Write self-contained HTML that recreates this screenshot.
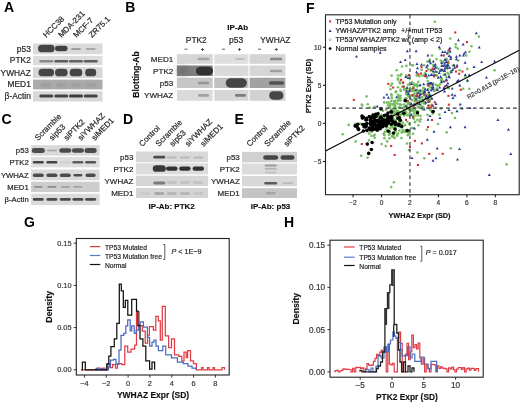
<!DOCTYPE html>
<html><head><meta charset="utf-8"><style>
html,body{margin:0;padding:0;background:#fff;width:520px;height:403px;overflow:hidden}
svg{display:block;font-family:"Liberation Sans",sans-serif;filter:blur(0.35px)}
</style></head><body>
<svg width="520" height="403" viewBox="0 0 520 403">
<defs><clipPath id="fclip"><rect x="325.5" y="14.8" width="193.7" height="179.9"/></clipPath><clipPath id="clip76"><rect x="76.2" y="238.4" width="153" height="136.4"/></clipPath><clipPath id="clip330"><rect x="330" y="240.2" width="153.2" height="137"/></clipPath></defs>
<defs><filter id="b1" x="-50%" y="-50%" width="200%" height="200%"><feGaussianBlur stdDeviation="0.6"/></filter><filter id="b2" x="-50%" y="-50%" width="200%" height="200%"><feGaussianBlur stdDeviation="1.2"/></filter><filter id="b3" x="-50%" y="-50%" width="200%" height="200%"><feGaussianBlur stdDeviation="2"/></filter></defs>
<text x="4.00" y="12.30" font-size="14" font-weight="bold" text-anchor="start" fill="#000">A</text>
<text x="125.30" y="12.30" font-size="14" font-weight="bold" text-anchor="start" fill="#000">B</text>
<text x="1.60" y="123.80" font-size="14" font-weight="bold" text-anchor="start" fill="#000">C</text>
<text x="123.00" y="123.80" font-size="14" font-weight="bold" text-anchor="start" fill="#000">D</text>
<text x="234.50" y="123.80" font-size="14" font-weight="bold" text-anchor="start" fill="#000">E</text>
<text x="306.00" y="12.50" font-size="14" font-weight="bold" text-anchor="start" fill="#000">F</text>
<text x="24.00" y="226.80" font-size="14" font-weight="bold" text-anchor="start" fill="#000">G</text>
<text x="284.00" y="226.80" font-size="14" font-weight="bold" text-anchor="start" fill="#000">H</text>
<rect x="33.00" y="43.50" width="69.50" height="10.80" fill="#dadada"/>
<rect x="33.00" y="55.90" width="69.50" height="9.30" fill="#dcdcdc"/>
<rect x="33.00" y="67.20" width="69.50" height="10.80" fill="#d6d6d6"/>
<rect x="33.00" y="79.60" width="69.50" height="9.80" fill="#ababab"/>
<rect x="33.00" y="91.20" width="69.50" height="10.30" fill="#d8d8d8"/>
<text x="30.80" y="51.80" font-size="8.4" font-weight="normal" text-anchor="end" fill="#2a2a2a" stroke="#2a2a2a" stroke-width="0.22">p53</text>
<text x="30.80" y="63.45" font-size="8.4" font-weight="normal" text-anchor="end" fill="#2a2a2a" stroke="#2a2a2a" stroke-width="0.22">PTK2</text>
<text x="30.80" y="75.50" font-size="8.4" font-weight="normal" text-anchor="end" fill="#2a2a2a" stroke="#2a2a2a" stroke-width="0.22">YWHAZ</text>
<text x="30.80" y="87.40" font-size="8.4" font-weight="normal" text-anchor="end" fill="#2a2a2a" stroke="#2a2a2a" stroke-width="0.22">MED1</text>
<text x="30.80" y="99.25" font-size="8.4" font-weight="normal" text-anchor="end" fill="#2a2a2a" stroke="#2a2a2a" stroke-width="0.22">&#946;-Actin</text>
<text x="46.20" y="38.10" font-size="8.0" font-weight="normal" text-anchor="start" fill="#2a2a2a" transform="rotate(-45 46.2 38.1)" stroke="#2a2a2a" stroke-width="0.22">HCC38</text>
<text x="61.40" y="38.10" font-size="8.0" font-weight="normal" text-anchor="start" fill="#2a2a2a" transform="rotate(-45 61.4 38.1)" stroke="#2a2a2a" stroke-width="0.22">MDA-231</text>
<text x="76.60" y="38.10" font-size="8.0" font-weight="normal" text-anchor="start" fill="#2a2a2a" transform="rotate(-45 76.6 38.1)" stroke="#2a2a2a" stroke-width="0.22">MCF-7</text>
<text x="92.00" y="38.10" font-size="8.0" font-weight="normal" text-anchor="start" fill="#2a2a2a" transform="rotate(-45 92.0 38.1)" stroke="#2a2a2a" stroke-width="0.22">ZR75.1</text>
<rect x="38.05" y="44.85" width="16.50" height="7.50" rx="4.12" ry="3.38" fill="#444" fill-opacity="1" filter="url(#b1)"/>
<rect x="55.05" y="45.85" width="12.50" height="5.50" rx="3.03" ry="2.48" fill="#3f3f3f" fill-opacity="1" filter="url(#b1)"/>
<rect x="71.00" y="47.90" width="10.00" height="2.20" rx="1.21" ry="0.99" fill="#777" fill-opacity="0.6" filter="url(#b1)"/>
<rect x="85.70" y="48.10" width="10.00" height="1.80" rx="0.99" ry="0.81" fill="#777" fill-opacity="0.5" filter="url(#b1)"/>
<rect x="39.30" y="60.00" width="14.00" height="2.60" rx="1.30" fill="#444" fill-opacity="0.55" filter="url(#b1)"/>
<rect x="54.30" y="60.00" width="14.00" height="2.60" rx="1.30" fill="#444" fill-opacity="0.85" filter="url(#b1)"/>
<rect x="69.00" y="60.00" width="14.00" height="2.60" rx="1.30" fill="#444" fill-opacity="0.8" filter="url(#b1)"/>
<rect x="83.70" y="60.00" width="14.00" height="2.60" rx="1.30" fill="#444" fill-opacity="0.85" filter="url(#b1)"/>
<rect x="38.55" y="68.85" width="15.50" height="7.50" rx="4.12" ry="3.38" fill="#444" fill-opacity="1" filter="url(#b1)"/>
<rect x="55.05" y="68.85" width="12.50" height="7.50" rx="3.75" ry="3.38" fill="#444" fill-opacity="1" filter="url(#b1)"/>
<rect x="69.75" y="68.85" width="12.50" height="7.50" rx="3.75" ry="3.38" fill="#444" fill-opacity="1" filter="url(#b1)"/>
<rect x="85.20" y="68.85" width="11.00" height="7.50" rx="3.30" ry="3.38" fill="#444" fill-opacity="1" filter="url(#b1)"/>
<rect x="40.80" y="83.00" width="11.00" height="4.00" rx="2.20" ry="1.80" fill="#888" fill-opacity="0.35" filter="url(#b2)"/>
<rect x="55.80" y="83.00" width="11.00" height="4.00" rx="2.20" ry="1.80" fill="#888" fill-opacity="0.35" filter="url(#b2)"/>
<rect x="70.50" y="83.00" width="11.00" height="4.00" rx="2.20" ry="1.80" fill="#888" fill-opacity="0.35" filter="url(#b2)"/>
<rect x="85.20" y="83.00" width="11.00" height="4.00" rx="2.20" ry="1.80" fill="#888" fill-opacity="0.35" filter="url(#b2)"/>
<rect x="39.30" y="94.40" width="14.00" height="3.20" rx="1.60" fill="#333" fill-opacity="0.9" filter="url(#b1)"/>
<rect x="54.30" y="94.40" width="14.00" height="3.20" rx="1.60" fill="#333" fill-opacity="0.9" filter="url(#b1)"/>
<rect x="69.00" y="94.40" width="14.00" height="3.20" rx="1.60" fill="#333" fill-opacity="0.95" filter="url(#b1)"/>
<rect x="83.70" y="94.40" width="14.00" height="3.20" rx="1.60" fill="#333" fill-opacity="0.9" filter="url(#b1)"/>
<text x="237.80" y="30.20" font-size="8" font-weight="bold" text-anchor="middle" fill="#111" stroke="#111" stroke-width="0.15">IP-Ab</text>
<text x="196.30" y="42.90" font-size="8.4" font-weight="normal" text-anchor="middle" fill="#2a2a2a" stroke="#2a2a2a" stroke-width="0.22">PTK2</text>
<text x="236.10" y="42.90" font-size="8.4" font-weight="normal" text-anchor="middle" fill="#2a2a2a" stroke="#2a2a2a" stroke-width="0.22">p53</text>
<text x="275.30" y="42.90" font-size="8.4" font-weight="normal" text-anchor="middle" fill="#2a2a2a" stroke="#2a2a2a" stroke-width="0.22">YWHAZ</text>
<line x1="184.50" y1="49.2" x2="187.50" y2="49.2" stroke="#333" stroke-width="0.8"/>
<line x1="222.00" y1="49.2" x2="225.00" y2="49.2" stroke="#333" stroke-width="0.8"/>
<line x1="258.00" y1="49.2" x2="261.00" y2="49.2" stroke="#333" stroke-width="0.8"/>
<line x1="201.00" y1="49.5" x2="204.00" y2="49.5" stroke="#333" stroke-width="0.8"/>
<line x1="202.50" y1="48.0" x2="202.50" y2="51.0" stroke="#333" stroke-width="0.8"/>
<line x1="238.00" y1="49.5" x2="241.00" y2="49.5" stroke="#333" stroke-width="0.8"/>
<line x1="239.50" y1="48.0" x2="239.50" y2="51.0" stroke="#333" stroke-width="0.8"/>
<line x1="274.80" y1="49.5" x2="277.80" y2="49.5" stroke="#333" stroke-width="0.8"/>
<line x1="276.30" y1="48.0" x2="276.30" y2="51.0" stroke="#333" stroke-width="0.8"/>
<rect x="176.90" y="54.20" width="35.80" height="9.60" fill="#d6d6d6"/>
<rect x="214.30" y="54.20" width="34.20" height="9.60" fill="#dedede"/>
<rect x="249.60" y="54.20" width="35.80" height="9.60" fill="#d4d4d4"/>
<rect x="176.90" y="65.50" width="35.80" height="10.50" fill="#808080"/>
<rect x="214.30" y="65.50" width="34.20" height="10.50" fill="#dadada"/>
<rect x="249.60" y="65.50" width="35.80" height="10.50" fill="#d6d6d6"/>
<rect x="176.90" y="77.70" width="35.80" height="10.30" fill="#c6c6c6"/>
<rect x="214.30" y="77.70" width="34.20" height="10.30" fill="#c0c0c0"/>
<rect x="249.60" y="77.70" width="35.80" height="10.30" fill="#a2a2a2"/>
<rect x="176.90" y="90.00" width="35.80" height="10.80" fill="#dadada"/>
<rect x="214.30" y="90.00" width="34.20" height="10.80" fill="#d6d6d6"/>
<rect x="249.60" y="90.00" width="35.80" height="10.80" fill="#d2d2d2"/>
<text x="173.30" y="61.90" font-size="8.1" font-weight="normal" text-anchor="end" fill="#2a2a2a" stroke="#2a2a2a" stroke-width="0.22">MED1</text>
<text x="173.30" y="73.65" font-size="8.1" font-weight="normal" text-anchor="end" fill="#2a2a2a" stroke="#2a2a2a" stroke-width="0.22">PTK2</text>
<text x="173.30" y="85.75" font-size="8.1" font-weight="normal" text-anchor="end" fill="#2a2a2a" stroke="#2a2a2a" stroke-width="0.22">p53</text>
<text x="173.30" y="98.30" font-size="8.1" font-weight="normal" text-anchor="end" fill="#2a2a2a" stroke="#2a2a2a" stroke-width="0.22">YWHAZ</text>
<text x="138.50" y="74.50" font-size="8.5" font-weight="bold" text-anchor="middle" fill="#111" transform="rotate(-90 138.5 74.5)" stroke="#111" stroke-width="0.15">Blotting-Ab</text>
<rect x="197.50" y="57.75" width="12.00" height="2.50" rx="1.38" ry="1.12" fill="#777" fill-opacity="0.5" filter="url(#b1)"/>
<rect x="235.00" y="57.90" width="10.00" height="2.20" rx="1.21" ry="0.99" fill="#888" fill-opacity="0.35" filter="url(#b1)"/>
<rect x="270.00" y="57.70" width="12.00" height="2.60" rx="1.43" ry="1.17" fill="#555" fill-opacity="0.6" filter="url(#b1)"/>
<rect x="196.00" y="66.75" width="17.00" height="8.50" rx="4.68" ry="3.83" fill="#333" fill-opacity="1" filter="url(#b1)"/>
<rect x="177.00" y="66.50" width="12.00" height="9.00" rx="3.60" ry="4.05" fill="#666" fill-opacity="0.5" filter="url(#b3)"/>
<rect x="270.00" y="69.70" width="12.00" height="2.60" rx="1.43" ry="1.17" fill="#666" fill-opacity="0.5" filter="url(#b1)"/>
<rect x="198.00" y="81.70" width="11.00" height="2.60" rx="1.43" ry="1.17" fill="#666" fill-opacity="0.5" filter="url(#b1)"/>
<rect x="225.80" y="78.15" width="21.00" height="9.50" rx="5.23" ry="4.28" fill="#444" fill-opacity="1" filter="url(#b1)"/>
<rect x="269.00" y="81.25" width="15.00" height="3.50" rx="1.93" ry="1.57" fill="#444" fill-opacity="0.85" filter="url(#b1)"/>
<rect x="198.00" y="94.10" width="11.00" height="2.60" rx="1.43" ry="1.17" fill="#666" fill-opacity="0.5" filter="url(#b1)"/>
<rect x="235.00" y="94.00" width="11.00" height="2.80" rx="1.54" ry="1.26" fill="#555" fill-opacity="0.7" filter="url(#b1)"/>
<rect x="269.30" y="91.15" width="14.00" height="8.50" rx="4.20" ry="3.83" fill="#444" fill-opacity="1" filter="url(#b1)"/>
<rect x="31.10" y="145.20" width="68.50" height="10.40" fill="#d8d8d8"/>
<rect x="31.10" y="157.00" width="68.50" height="10.40" fill="#dedede"/>
<rect x="31.10" y="169.50" width="68.50" height="10.80" fill="#dadada"/>
<rect x="31.10" y="181.70" width="68.50" height="10.40" fill="#cdcdcd"/>
<rect x="31.10" y="193.80" width="68.50" height="11.30" fill="#dadada"/>
<text x="28.70" y="153.15" font-size="7.7" font-weight="normal" text-anchor="end" fill="#2a2a2a" stroke="#2a2a2a" stroke-width="0.22">p53</text>
<text x="28.70" y="164.95" font-size="7.7" font-weight="normal" text-anchor="end" fill="#2a2a2a" stroke="#2a2a2a" stroke-width="0.22">PTK2</text>
<text x="28.70" y="177.65" font-size="7.7" font-weight="normal" text-anchor="end" fill="#2a2a2a" stroke="#2a2a2a" stroke-width="0.22">YWHAZ</text>
<text x="28.70" y="189.65" font-size="7.7" font-weight="normal" text-anchor="end" fill="#2a2a2a" stroke="#2a2a2a" stroke-width="0.22">MED1</text>
<text x="28.70" y="202.20" font-size="7.7" font-weight="normal" text-anchor="end" fill="#2a2a2a" stroke="#2a2a2a" stroke-width="0.22">&#946;-Actin</text>
<text x="37.90" y="140.90" font-size="8.0" font-weight="normal" text-anchor="start" fill="#2a2a2a" transform="rotate(-45 37.9 140.9)" stroke="#2a2a2a" stroke-width="0.22">Scramble</text>
<text x="52.30" y="140.90" font-size="8.0" font-weight="normal" text-anchor="start" fill="#2a2a2a" transform="rotate(-45 52.3 140.9)" stroke="#2a2a2a" stroke-width="0.22">sip53</text>
<text x="66.90" y="140.90" font-size="8.0" font-weight="normal" text-anchor="start" fill="#2a2a2a" transform="rotate(-45 66.9 140.9)" stroke="#2a2a2a" stroke-width="0.22">siPTK2</text>
<text x="80.90" y="140.90" font-size="8.0" font-weight="normal" text-anchor="start" fill="#2a2a2a" transform="rotate(-45 80.9 140.9)" stroke="#2a2a2a" stroke-width="0.22">siYWHAZ</text>
<text x="94.70" y="140.90" font-size="8.0" font-weight="normal" text-anchor="start" fill="#2a2a2a" transform="rotate(-45 94.7 140.9)" stroke="#2a2a2a" stroke-width="0.22">siMED1</text>
<rect x="31.80" y="148.00" width="13.00" height="5.00" rx="2.75" ry="2.25" fill="#444" fill-opacity="0.95" filter="url(#b1)"/>
<rect x="46.90" y="149.70" width="10.00" height="1.60" rx="0.88" ry="0.72" fill="#444" fill-opacity="0.35" filter="url(#b1)"/>
<rect x="59.30" y="148.20" width="12.00" height="4.60" rx="2.53" ry="2.07" fill="#444" fill-opacity="0.95" filter="url(#b1)"/>
<rect x="71.90" y="148.20" width="12.00" height="4.60" rx="2.53" ry="2.07" fill="#444" fill-opacity="0.95" filter="url(#b1)"/>
<rect x="84.60" y="148.00" width="12.00" height="5.00" rx="2.75" ry="2.25" fill="#444" fill-opacity="0.95" filter="url(#b1)"/>
<rect x="32.80" y="160.90" width="11.00" height="2.60" rx="1.30" fill="#333" fill-opacity="0.9" filter="url(#b1)"/>
<rect x="46.40" y="160.90" width="11.00" height="2.60" rx="1.30" fill="#333" fill-opacity="0.9" filter="url(#b1)"/>
<rect x="59.80" y="160.90" width="11.00" height="2.60" rx="1.30" fill="#333" fill-opacity="0.08" filter="url(#b1)"/>
<rect x="72.40" y="160.90" width="11.00" height="2.60" rx="1.30" fill="#333" fill-opacity="0.75" filter="url(#b1)"/>
<rect x="85.10" y="160.90" width="11.00" height="2.60" rx="1.30" fill="#333" fill-opacity="0.8" filter="url(#b1)"/>
<rect x="32.80" y="173.40" width="11.00" height="3.60" rx="1.98" ry="1.62" fill="#444" fill-opacity="0.95" filter="url(#b1)"/>
<rect x="46.40" y="173.40" width="11.00" height="3.60" rx="1.98" ry="1.62" fill="#444" fill-opacity="0.95" filter="url(#b1)"/>
<rect x="59.80" y="173.40" width="11.00" height="3.60" rx="1.98" ry="1.62" fill="#444" fill-opacity="0.95" filter="url(#b1)"/>
<rect x="73.40" y="174.00" width="9.00" height="2.40" rx="1.32" ry="1.08" fill="#444" fill-opacity="0.95" filter="url(#b1)"/>
<rect x="85.60" y="173.40" width="10.00" height="3.60" rx="1.98" ry="1.62" fill="#444" fill-opacity="0.95" filter="url(#b1)"/>
<rect x="33.80" y="186.00" width="9.00" height="1.80" rx="0.90" fill="#555" fill-opacity="0.5" filter="url(#b1)"/>
<rect x="47.40" y="186.00" width="9.00" height="1.80" rx="0.90" fill="#555" fill-opacity="0.55" filter="url(#b1)"/>
<rect x="60.80" y="186.00" width="9.00" height="1.80" rx="0.90" fill="#555" fill-opacity="0.35" filter="url(#b1)"/>
<rect x="73.40" y="186.00" width="9.00" height="1.80" rx="0.90" fill="#555" fill-opacity="0.35" filter="url(#b1)"/>
<rect x="86.10" y="186.00" width="9.00" height="1.80" rx="0.90" fill="#555" fill-opacity="0.0" filter="url(#b1)"/>
<rect x="32.80" y="198.00" width="11.00" height="2.80" rx="1.40" fill="#333" fill-opacity="0.85" filter="url(#b1)"/>
<rect x="46.40" y="198.00" width="11.00" height="2.80" rx="1.40" fill="#333" fill-opacity="0.85" filter="url(#b1)"/>
<rect x="59.80" y="198.00" width="11.00" height="2.80" rx="1.40" fill="#333" fill-opacity="0.85" filter="url(#b1)"/>
<rect x="72.40" y="198.00" width="11.00" height="2.80" rx="1.40" fill="#333" fill-opacity="0.85" filter="url(#b1)"/>
<rect x="85.10" y="198.00" width="11.00" height="2.80" rx="1.40" fill="#333" fill-opacity="0.85" filter="url(#b1)"/>
<rect x="136.00" y="151.50" width="72.00" height="10.80" fill="#d8d8d8"/>
<rect x="136.00" y="163.30" width="72.00" height="11.10" fill="#dcdcdc"/>
<rect x="136.00" y="175.70" width="72.00" height="10.40" fill="#d6d6d6"/>
<rect x="136.00" y="188.00" width="72.00" height="10.00" fill="#d4d4d4"/>
<text x="133.40" y="159.80" font-size="8.0" font-weight="normal" text-anchor="end" fill="#2a2a2a" stroke="#2a2a2a" stroke-width="0.22">p53</text>
<text x="133.40" y="171.75" font-size="8.0" font-weight="normal" text-anchor="end" fill="#2a2a2a" stroke="#2a2a2a" stroke-width="0.22">PTK2</text>
<text x="133.40" y="183.80" font-size="8.0" font-weight="normal" text-anchor="end" fill="#2a2a2a" stroke="#2a2a2a" stroke-width="0.22">YWHAZ</text>
<text x="133.40" y="195.90" font-size="8.0" font-weight="normal" text-anchor="end" fill="#2a2a2a" stroke="#2a2a2a" stroke-width="0.22">MED1</text>
<text x="142.20" y="146.90" font-size="8.0" font-weight="normal" text-anchor="start" fill="#2a2a2a" transform="rotate(-45 142.2 146.9)" stroke="#2a2a2a" stroke-width="0.22">Control</text>
<text x="158.70" y="146.90" font-size="8.0" font-weight="normal" text-anchor="start" fill="#2a2a2a" transform="rotate(-45 158.7 146.9)" stroke="#2a2a2a" stroke-width="0.22">Scramble</text>
<text x="172.80" y="146.90" font-size="8.0" font-weight="normal" text-anchor="start" fill="#2a2a2a" transform="rotate(-45 172.8 146.9)" stroke="#2a2a2a" stroke-width="0.22">sip53</text>
<text x="188.20" y="146.90" font-size="8.0" font-weight="normal" text-anchor="start" fill="#2a2a2a" transform="rotate(-45 188.2 146.9)" stroke="#2a2a2a" stroke-width="0.22">siYWHAZ</text>
<text x="203.60" y="146.90" font-size="8.0" font-weight="normal" text-anchor="start" fill="#2a2a2a" transform="rotate(-45 203.6 146.9)" stroke="#2a2a2a" stroke-width="0.22">siMED1</text>
<rect x="153.30" y="155.70" width="12.00" height="2.80" rx="1.54" ry="1.26" fill="#333" fill-opacity="0.85" filter="url(#b1)"/>
<rect x="166.80" y="156.40" width="10.00" height="2.20" rx="1.21" ry="0.99" fill="#777" fill-opacity="0.35" filter="url(#b1)"/>
<rect x="179.90" y="156.40" width="10.00" height="2.20" rx="1.21" ry="0.99" fill="#777" fill-opacity="0.35" filter="url(#b1)"/>
<rect x="193.30" y="156.40" width="10.00" height="2.20" rx="1.21" ry="0.99" fill="#777" fill-opacity="0.35" filter="url(#b1)"/>
<rect x="152.80" y="165.35" width="13.00" height="6.50" rx="3.58" ry="2.93" fill="#383838" fill-opacity="1" filter="url(#b1)"/>
<rect x="166.05" y="166.50" width="11.50" height="4.20" rx="2.31" ry="1.89" fill="#333" fill-opacity="1" filter="url(#b1)"/>
<rect x="179.15" y="166.50" width="11.50" height="4.20" rx="2.31" ry="1.89" fill="#333" fill-opacity="1" filter="url(#b1)"/>
<rect x="192.55" y="166.50" width="11.50" height="4.20" rx="2.31" ry="1.89" fill="#333" fill-opacity="1" filter="url(#b1)"/>
<rect x="153.30" y="181.50" width="12.00" height="3.00" rx="1.65" ry="1.35" fill="#555" fill-opacity="0.7" filter="url(#b1)"/>
<rect x="166.80" y="181.00" width="10.00" height="3.00" rx="1.65" ry="1.35" fill="#888" fill-opacity="0.25" filter="url(#b1)"/>
<rect x="179.90" y="181.00" width="10.00" height="3.00" rx="1.65" ry="1.35" fill="#888" fill-opacity="0.25" filter="url(#b1)"/>
<rect x="193.30" y="181.00" width="10.00" height="3.00" rx="1.65" ry="1.35" fill="#888" fill-opacity="0.25" filter="url(#b1)"/>
<rect x="140.00" y="192.25" width="10.00" height="2.50" rx="1.38" ry="1.12" fill="#666" fill-opacity="0.1" filter="url(#b1)"/>
<rect x="154.30" y="192.25" width="10.00" height="2.50" rx="1.38" ry="1.12" fill="#666" fill-opacity="0.45" filter="url(#b1)"/>
<rect x="166.80" y="192.25" width="10.00" height="2.50" rx="1.38" ry="1.12" fill="#666" fill-opacity="0.3" filter="url(#b1)"/>
<rect x="179.90" y="192.25" width="10.00" height="2.50" rx="1.38" ry="1.12" fill="#666" fill-opacity="0.3" filter="url(#b1)"/>
<rect x="193.30" y="192.25" width="10.00" height="2.50" rx="1.38" ry="1.12" fill="#666" fill-opacity="0.15" filter="url(#b1)"/>
<text x="171.70" y="208.60" font-size="8" font-weight="bold" text-anchor="middle" fill="#111" stroke="#111" stroke-width="0.15">IP-Ab: PTK2</text>
<rect x="242.00" y="151.90" width="55.00" height="10.40" fill="#d0d0d0"/>
<rect x="242.00" y="163.50" width="55.00" height="11.00" fill="#dcdcdc"/>
<rect x="242.00" y="176.00" width="55.00" height="10.40" fill="#d8d8d8"/>
<rect x="242.00" y="188.20" width="55.00" height="9.80" fill="#c4c4c4"/>
<text x="239.80" y="160.00" font-size="8.0" font-weight="normal" text-anchor="end" fill="#2a2a2a" stroke="#2a2a2a" stroke-width="0.22">p53</text>
<text x="239.80" y="171.90" font-size="8.0" font-weight="normal" text-anchor="end" fill="#2a2a2a" stroke="#2a2a2a" stroke-width="0.22">PTK2</text>
<text x="239.80" y="184.10" font-size="8.0" font-weight="normal" text-anchor="end" fill="#2a2a2a" stroke="#2a2a2a" stroke-width="0.22">YWHAZ</text>
<text x="239.80" y="196.00" font-size="8.0" font-weight="normal" text-anchor="end" fill="#2a2a2a" stroke="#2a2a2a" stroke-width="0.22">MED1</text>
<text x="249.70" y="146.90" font-size="8.0" font-weight="normal" text-anchor="start" fill="#2a2a2a" transform="rotate(-45 249.7 146.9)" stroke="#2a2a2a" stroke-width="0.22">Control</text>
<text x="267.50" y="146.90" font-size="8.0" font-weight="normal" text-anchor="start" fill="#2a2a2a" transform="rotate(-45 267.5 146.9)" stroke="#2a2a2a" stroke-width="0.22">Scramble</text>
<text x="287.00" y="146.90" font-size="8.0" font-weight="normal" text-anchor="start" fill="#2a2a2a" transform="rotate(-45 287.0 146.9)" stroke="#2a2a2a" stroke-width="0.22">siPTK2</text>
<rect x="263.20" y="155.35" width="15.00" height="4.50" rx="2.48" ry="2.02" fill="#444" fill-opacity="1" filter="url(#b1)"/>
<rect x="280.50" y="155.35" width="14.00" height="4.50" rx="2.48" ry="2.02" fill="#444" fill-opacity="1" filter="url(#b1)"/>
<rect x="264.70" y="164.50" width="12.00" height="2.00" rx="1.10" ry="0.90" fill="#666" fill-opacity="0.55" filter="url(#b1)"/>
<rect x="264.70" y="167.80" width="12.00" height="2.00" rx="1.10" ry="0.90" fill="#777" fill-opacity="0.4" filter="url(#b1)"/>
<rect x="264.70" y="171.50" width="12.00" height="2.00" rx="1.10" ry="0.90" fill="#888" fill-opacity="0.3" filter="url(#b1)"/>
<rect x="264.20" y="181.90" width="13.00" height="2.60" rx="1.43" ry="1.17" fill="#444" fill-opacity="0.85" filter="url(#b1)"/>
<rect x="282.00" y="182.20" width="11.00" height="2.00" rx="1.10" ry="0.90" fill="#777" fill-opacity="0.3" filter="url(#b1)"/>
<rect x="265.70" y="191.95" width="10.00" height="2.50" rx="1.38" ry="1.12" fill="#777" fill-opacity="0.4" filter="url(#b1)"/>
<text x="270.50" y="208.50" font-size="8" font-weight="bold" text-anchor="middle" fill="#111" stroke="#111" stroke-width="0.15">IP-Ab: p53</text>
<g clip-path="url(#fclip)">
<circle cx="391.8" cy="98.3" r="1.3" fill="#78bc62"/>
<circle cx="425.5" cy="98.8" r="1.3" fill="#78bc62"/>
<circle cx="405.7" cy="112.1" r="1.3" fill="#78bc62"/>
<circle cx="400.9" cy="112.4" r="1.3" fill="#78bc62"/>
<circle cx="463.2" cy="88.7" r="1.3" fill="#78bc62"/>
<circle cx="409.7" cy="113.3" r="1.3" fill="#78bc62"/>
<circle cx="395.8" cy="92.2" r="1.3" fill="#78bc62"/>
<circle cx="399.3" cy="130.5" r="1.3" fill="#78bc62"/>
<circle cx="406.0" cy="89.8" r="1.3" fill="#78bc62"/>
<circle cx="389.3" cy="117.2" r="1.3" fill="#78bc62"/>
<circle cx="370.2" cy="120.4" r="1.3" fill="#78bc62"/>
<circle cx="393.6" cy="110.0" r="1.3" fill="#78bc62"/>
<circle cx="427.4" cy="61.6" r="1.3" fill="#78bc62"/>
<circle cx="409.4" cy="109.3" r="1.3" fill="#78bc62"/>
<circle cx="394.4" cy="103.7" r="1.3" fill="#78bc62"/>
<circle cx="399.1" cy="126.2" r="1.3" fill="#78bc62"/>
<circle cx="444.5" cy="70.7" r="1.3" fill="#78bc62"/>
<circle cx="419.5" cy="100.5" r="1.3" fill="#78bc62"/>
<circle cx="385.3" cy="118.3" r="1.3" fill="#78bc62"/>
<circle cx="394.1" cy="122.6" r="1.3" fill="#78bc62"/>
<circle cx="392.1" cy="83.6" r="1.3" fill="#78bc62"/>
<circle cx="454.0" cy="65.5" r="1.3" fill="#78bc62"/>
<circle cx="401.9" cy="113.9" r="1.3" fill="#78bc62"/>
<circle cx="393.5" cy="111.2" r="1.3" fill="#78bc62"/>
<circle cx="424.5" cy="101.8" r="1.3" fill="#78bc62"/>
<circle cx="416.4" cy="92.4" r="1.3" fill="#78bc62"/>
<circle cx="438.5" cy="68.8" r="1.3" fill="#78bc62"/>
<circle cx="371.4" cy="132.0" r="1.3" fill="#78bc62"/>
<circle cx="415.5" cy="84.9" r="1.3" fill="#78bc62"/>
<circle cx="417.5" cy="119.9" r="1.3" fill="#78bc62"/>
<circle cx="506.6" cy="164.4" r="1.3" fill="#78bc62"/>
<circle cx="403.8" cy="86.2" r="1.3" fill="#78bc62"/>
<circle cx="377.1" cy="115.8" r="1.3" fill="#78bc62"/>
<circle cx="387.7" cy="130.6" r="1.3" fill="#78bc62"/>
<circle cx="433.6" cy="75.0" r="1.3" fill="#78bc62"/>
<circle cx="395.5" cy="106.5" r="1.3" fill="#78bc62"/>
<circle cx="388.9" cy="134.8" r="1.3" fill="#78bc62"/>
<circle cx="386.8" cy="102.6" r="1.3" fill="#78bc62"/>
<circle cx="407.1" cy="115.3" r="1.3" fill="#78bc62"/>
<circle cx="400.2" cy="117.5" r="1.3" fill="#78bc62"/>
<circle cx="432.7" cy="113.6" r="1.3" fill="#78bc62"/>
<circle cx="447.9" cy="65.2" r="1.3" fill="#78bc62"/>
<circle cx="402.9" cy="122.7" r="1.3" fill="#78bc62"/>
<circle cx="436.8" cy="75.5" r="1.3" fill="#78bc62"/>
<circle cx="391.3" cy="109.2" r="1.3" fill="#78bc62"/>
<circle cx="397.3" cy="118.8" r="1.3" fill="#78bc62"/>
<circle cx="413.3" cy="87.0" r="1.3" fill="#78bc62"/>
<circle cx="444.3" cy="70.4" r="1.3" fill="#78bc62"/>
<circle cx="390.5" cy="89.3" r="1.3" fill="#78bc62"/>
<circle cx="425.1" cy="93.6" r="1.3" fill="#78bc62"/>
<circle cx="439.9" cy="84.4" r="1.3" fill="#78bc62"/>
<circle cx="414.1" cy="85.6" r="1.3" fill="#78bc62"/>
<circle cx="409.1" cy="124.0" r="1.3" fill="#78bc62"/>
<circle cx="397.9" cy="79.6" r="1.3" fill="#78bc62"/>
<circle cx="393.8" cy="137.2" r="1.3" fill="#78bc62"/>
<circle cx="417.9" cy="111.4" r="1.3" fill="#78bc62"/>
<circle cx="382.8" cy="124.9" r="1.3" fill="#78bc62"/>
<circle cx="367.8" cy="104.2" r="1.3" fill="#78bc62"/>
<circle cx="408.1" cy="95.4" r="1.3" fill="#78bc62"/>
<circle cx="415.4" cy="96.6" r="1.3" fill="#78bc62"/>
<circle cx="417.0" cy="86.5" r="1.3" fill="#78bc62"/>
<circle cx="367.6" cy="157.7" r="1.3" fill="#78bc62"/>
<circle cx="434.8" cy="21.8" r="1.3" fill="#78bc62"/>
<circle cx="387.7" cy="119.4" r="1.3" fill="#78bc62"/>
<circle cx="403.9" cy="114.8" r="1.3" fill="#78bc62"/>
<circle cx="393.9" cy="119.6" r="1.3" fill="#78bc62"/>
<circle cx="446.4" cy="77.2" r="1.3" fill="#78bc62"/>
<circle cx="394.7" cy="105.0" r="1.3" fill="#78bc62"/>
<circle cx="405.3" cy="90.2" r="1.3" fill="#78bc62"/>
<circle cx="400.5" cy="115.0" r="1.3" fill="#78bc62"/>
<circle cx="371.4" cy="135.9" r="1.3" fill="#78bc62"/>
<circle cx="433.8" cy="72.3" r="1.3" fill="#78bc62"/>
<circle cx="394.8" cy="111.7" r="1.3" fill="#78bc62"/>
<circle cx="429.4" cy="86.2" r="1.3" fill="#78bc62"/>
<circle cx="469.4" cy="51.8" r="1.3" fill="#78bc62"/>
<circle cx="383.8" cy="133.7" r="1.3" fill="#78bc62"/>
<circle cx="391.8" cy="125.0" r="1.3" fill="#78bc62"/>
<circle cx="422.9" cy="107.1" r="1.3" fill="#78bc62"/>
<circle cx="355.7" cy="141.4" r="1.3" fill="#78bc62"/>
<circle cx="413.6" cy="118.8" r="1.3" fill="#78bc62"/>
<circle cx="401.0" cy="124.2" r="1.3" fill="#78bc62"/>
<circle cx="436.9" cy="72.1" r="1.3" fill="#78bc62"/>
<circle cx="435.6" cy="90.2" r="1.3" fill="#78bc62"/>
<circle cx="381.4" cy="115.0" r="1.3" fill="#78bc62"/>
<circle cx="390.2" cy="128.4" r="1.3" fill="#78bc62"/>
<circle cx="400.4" cy="121.7" r="1.3" fill="#78bc62"/>
<circle cx="395.7" cy="131.4" r="1.3" fill="#78bc62"/>
<circle cx="406.2" cy="131.8" r="1.3" fill="#78bc62"/>
<circle cx="433.5" cy="74.7" r="1.3" fill="#78bc62"/>
<circle cx="375.9" cy="114.5" r="1.3" fill="#78bc62"/>
<circle cx="402.3" cy="86.8" r="1.3" fill="#78bc62"/>
<circle cx="393.6" cy="115.4" r="1.3" fill="#78bc62"/>
<circle cx="411.8" cy="95.7" r="1.3" fill="#78bc62"/>
<circle cx="394.8" cy="102.6" r="1.3" fill="#78bc62"/>
<circle cx="457.8" cy="48.6" r="1.3" fill="#78bc62"/>
<circle cx="396.5" cy="125.1" r="1.3" fill="#78bc62"/>
<circle cx="436.9" cy="67.5" r="1.3" fill="#78bc62"/>
<circle cx="378.7" cy="115.9" r="1.3" fill="#78bc62"/>
<circle cx="417.5" cy="113.1" r="1.3" fill="#78bc62"/>
<circle cx="385.5" cy="114.4" r="1.3" fill="#78bc62"/>
<circle cx="391.2" cy="187.1" r="1.3" fill="#78bc62"/>
<circle cx="420.2" cy="101.5" r="1.3" fill="#78bc62"/>
<circle cx="431.8" cy="104.8" r="1.3" fill="#78bc62"/>
<circle cx="379.4" cy="125.2" r="1.3" fill="#78bc62"/>
<circle cx="378.3" cy="119.2" r="1.3" fill="#78bc62"/>
<circle cx="410.2" cy="115.8" r="1.3" fill="#78bc62"/>
<circle cx="451.8" cy="71.0" r="1.3" fill="#78bc62"/>
<circle cx="415.1" cy="98.9" r="1.3" fill="#78bc62"/>
<circle cx="448.5" cy="63.5" r="1.3" fill="#78bc62"/>
<circle cx="402.1" cy="66.5" r="1.3" fill="#78bc62"/>
<circle cx="417.1" cy="93.4" r="1.3" fill="#78bc62"/>
<circle cx="422.6" cy="99.6" r="1.3" fill="#78bc62"/>
<circle cx="395.3" cy="120.3" r="1.3" fill="#78bc62"/>
<circle cx="422.3" cy="90.5" r="1.3" fill="#78bc62"/>
<circle cx="383.5" cy="115.3" r="1.3" fill="#78bc62"/>
<circle cx="374.7" cy="134.8" r="1.3" fill="#78bc62"/>
<circle cx="408.1" cy="132.0" r="1.3" fill="#78bc62"/>
<circle cx="406.4" cy="65.9" r="1.3" fill="#78bc62"/>
<circle cx="399.0" cy="115.3" r="1.3" fill="#78bc62"/>
<circle cx="401.7" cy="132.4" r="1.3" fill="#78bc62"/>
<circle cx="416.9" cy="98.2" r="1.3" fill="#78bc62"/>
<circle cx="398.8" cy="99.4" r="1.3" fill="#78bc62"/>
<circle cx="414.6" cy="101.4" r="1.3" fill="#78bc62"/>
<circle cx="414.4" cy="108.7" r="1.3" fill="#78bc62"/>
<circle cx="427.7" cy="100.3" r="1.3" fill="#78bc62"/>
<circle cx="384.5" cy="135.2" r="1.3" fill="#78bc62"/>
<circle cx="428.3" cy="89.0" r="1.3" fill="#78bc62"/>
<circle cx="396.6" cy="70.3" r="1.3" fill="#78bc62"/>
<circle cx="406.7" cy="90.5" r="1.3" fill="#78bc62"/>
<circle cx="374.3" cy="117.1" r="1.3" fill="#78bc62"/>
<circle cx="408.0" cy="104.0" r="1.3" fill="#78bc62"/>
<circle cx="393.0" cy="113.4" r="1.3" fill="#78bc62"/>
<circle cx="408.0" cy="102.5" r="1.3" fill="#78bc62"/>
<circle cx="400.6" cy="127.2" r="1.3" fill="#78bc62"/>
<circle cx="400.4" cy="75.8" r="1.3" fill="#78bc62"/>
<circle cx="392.7" cy="127.2" r="1.3" fill="#78bc62"/>
<circle cx="409.6" cy="133.7" r="1.3" fill="#78bc62"/>
<circle cx="448.3" cy="61.4" r="1.3" fill="#78bc62"/>
<circle cx="419.5" cy="93.3" r="1.3" fill="#78bc62"/>
<circle cx="414.5" cy="109.1" r="1.3" fill="#78bc62"/>
<circle cx="398.2" cy="118.1" r="1.3" fill="#78bc62"/>
<circle cx="436.9" cy="88.6" r="1.3" fill="#78bc62"/>
<circle cx="406.3" cy="112.7" r="1.3" fill="#78bc62"/>
<circle cx="408.7" cy="109.4" r="1.3" fill="#78bc62"/>
<circle cx="428.4" cy="69.3" r="1.3" fill="#78bc62"/>
<circle cx="409.9" cy="106.9" r="1.3" fill="#78bc62"/>
<circle cx="409.1" cy="130.9" r="1.3" fill="#78bc62"/>
<circle cx="420.0" cy="97.9" r="1.3" fill="#78bc62"/>
<circle cx="415.6" cy="98.1" r="1.3" fill="#78bc62"/>
<circle cx="443.6" cy="74.7" r="1.3" fill="#78bc62"/>
<circle cx="382.5" cy="121.2" r="1.3" fill="#78bc62"/>
<circle cx="420.7" cy="119.3" r="1.3" fill="#78bc62"/>
<circle cx="419.1" cy="85.6" r="1.3" fill="#78bc62"/>
<circle cx="342.7" cy="134.3" r="1.3" fill="#78bc62"/>
<circle cx="384.2" cy="102.4" r="1.3" fill="#78bc62"/>
<circle cx="403.9" cy="109.0" r="1.3" fill="#78bc62"/>
<circle cx="424.7" cy="91.6" r="1.3" fill="#78bc62"/>
<circle cx="401.3" cy="104.8" r="1.3" fill="#78bc62"/>
<circle cx="448.7" cy="74.1" r="1.3" fill="#78bc62"/>
<circle cx="417.9" cy="102.6" r="1.3" fill="#78bc62"/>
<circle cx="414.1" cy="104.4" r="1.3" fill="#78bc62"/>
<circle cx="452.0" cy="113.0" r="1.3" fill="#78bc62"/>
<circle cx="399.3" cy="117.7" r="1.3" fill="#78bc62"/>
<circle cx="433.4" cy="83.4" r="1.3" fill="#78bc62"/>
<circle cx="441.0" cy="108.5" r="1.3" fill="#78bc62"/>
<circle cx="386.4" cy="129.6" r="1.3" fill="#78bc62"/>
<circle cx="406.2" cy="75.5" r="1.3" fill="#78bc62"/>
<circle cx="427.3" cy="99.1" r="1.3" fill="#78bc62"/>
<circle cx="387.1" cy="141.4" r="1.3" fill="#78bc62"/>
<circle cx="377.9" cy="124.3" r="1.3" fill="#78bc62"/>
<circle cx="415.7" cy="115.5" r="1.3" fill="#78bc62"/>
<circle cx="391.7" cy="95.7" r="1.3" fill="#78bc62"/>
<circle cx="433.4" cy="64.7" r="1.3" fill="#78bc62"/>
<circle cx="423.4" cy="107.5" r="1.3" fill="#78bc62"/>
<circle cx="418.2" cy="104.2" r="1.3" fill="#78bc62"/>
<circle cx="411.9" cy="100.2" r="1.3" fill="#78bc62"/>
<circle cx="422.3" cy="109.1" r="1.3" fill="#78bc62"/>
<circle cx="392.4" cy="116.9" r="1.3" fill="#78bc62"/>
<circle cx="494.6" cy="70.2" r="1.3" fill="#78bc62"/>
<circle cx="385.7" cy="146.1" r="1.3" fill="#78bc62"/>
<circle cx="416.6" cy="75.7" r="1.3" fill="#78bc62"/>
<circle cx="373.0" cy="128.7" r="1.3" fill="#78bc62"/>
<circle cx="417.6" cy="101.1" r="1.3" fill="#78bc62"/>
<circle cx="459.6" cy="70.3" r="1.3" fill="#78bc62"/>
<circle cx="417.2" cy="74.4" r="1.3" fill="#78bc62"/>
<circle cx="393.5" cy="134.8" r="1.3" fill="#78bc62"/>
<circle cx="416.1" cy="85.2" r="1.3" fill="#78bc62"/>
<circle cx="440.0" cy="49.0" r="1.3" fill="#78bc62"/>
<circle cx="436.5" cy="59.1" r="1.3" fill="#78bc62"/>
<circle cx="370.2" cy="116.4" r="1.3" fill="#78bc62"/>
<circle cx="396.1" cy="91.2" r="1.3" fill="#78bc62"/>
<circle cx="435.1" cy="90.2" r="1.3" fill="#78bc62"/>
<circle cx="421.7" cy="93.8" r="1.3" fill="#78bc62"/>
<circle cx="399.7" cy="81.8" r="1.3" fill="#78bc62"/>
<circle cx="384.9" cy="131.9" r="1.3" fill="#78bc62"/>
<circle cx="399.2" cy="120.7" r="1.3" fill="#78bc62"/>
<circle cx="398.1" cy="100.6" r="1.3" fill="#78bc62"/>
<circle cx="424.0" cy="95.5" r="1.3" fill="#78bc62"/>
<circle cx="411.2" cy="108.5" r="1.3" fill="#78bc62"/>
<circle cx="369.9" cy="107.6" r="1.3" fill="#78bc62"/>
<circle cx="398.4" cy="100.2" r="1.3" fill="#78bc62"/>
<circle cx="406.5" cy="105.7" r="1.3" fill="#78bc62"/>
<circle cx="395.8" cy="109.3" r="1.3" fill="#78bc62"/>
<circle cx="414.0" cy="90.9" r="1.3" fill="#78bc62"/>
<circle cx="409.0" cy="150.0" r="1.3" fill="#78bc62"/>
<circle cx="428.8" cy="105.6" r="1.3" fill="#78bc62"/>
<circle cx="393.9" cy="182.3" r="1.3" fill="#78bc62"/>
<circle cx="400.6" cy="95.7" r="1.3" fill="#78bc62"/>
<circle cx="408.1" cy="95.4" r="1.3" fill="#78bc62"/>
<circle cx="425.4" cy="103.5" r="1.3" fill="#78bc62"/>
<circle cx="429.8" cy="59.6" r="1.3" fill="#78bc62"/>
<circle cx="394.9" cy="126.2" r="1.3" fill="#78bc62"/>
<circle cx="424.1" cy="75.3" r="1.3" fill="#78bc62"/>
<circle cx="430.8" cy="87.4" r="1.3" fill="#78bc62"/>
<circle cx="391.2" cy="94.3" r="1.3" fill="#78bc62"/>
<circle cx="408.1" cy="101.7" r="1.3" fill="#78bc62"/>
<circle cx="414.3" cy="113.4" r="1.3" fill="#78bc62"/>
<circle cx="429.4" cy="61.8" r="1.3" fill="#78bc62"/>
<circle cx="399.2" cy="112.4" r="1.3" fill="#78bc62"/>
<circle cx="438.0" cy="124.0" r="1.3" fill="#78bc62"/>
<circle cx="412.2" cy="82.3" r="1.3" fill="#78bc62"/>
<circle cx="374.5" cy="106.9" r="1.3" fill="#78bc62"/>
<circle cx="389.6" cy="131.3" r="1.3" fill="#78bc62"/>
<circle cx="394.8" cy="138.0" r="1.3" fill="#78bc62"/>
<circle cx="404.1" cy="88.7" r="1.3" fill="#78bc62"/>
<circle cx="406.9" cy="75.9" r="1.3" fill="#78bc62"/>
<circle cx="471.5" cy="46.3" r="1.3" fill="#78bc62"/>
<circle cx="455.7" cy="44.3" r="1.3" fill="#78bc62"/>
<circle cx="400.7" cy="90.9" r="1.3" fill="#78bc62"/>
<circle cx="425.5" cy="74.6" r="1.3" fill="#78bc62"/>
<circle cx="383.9" cy="133.8" r="1.3" fill="#78bc62"/>
<circle cx="393.1" cy="120.7" r="1.3" fill="#78bc62"/>
<circle cx="436.0" cy="84.9" r="1.3" fill="#78bc62"/>
<circle cx="404.0" cy="104.5" r="1.3" fill="#78bc62"/>
<circle cx="447.6" cy="86.6" r="1.3" fill="#78bc62"/>
<circle cx="436.1" cy="107.7" r="1.3" fill="#78bc62"/>
<circle cx="424.1" cy="65.2" r="1.3" fill="#78bc62"/>
<circle cx="398.4" cy="96.9" r="1.3" fill="#78bc62"/>
<circle cx="410.0" cy="87.9" r="1.3" fill="#78bc62"/>
<circle cx="455.0" cy="118.0" r="1.3" fill="#78bc62"/>
<circle cx="423.2" cy="88.0" r="1.3" fill="#78bc62"/>
<circle cx="408.4" cy="92.2" r="1.3" fill="#78bc62"/>
<circle cx="420.5" cy="115.9" r="1.3" fill="#78bc62"/>
<circle cx="373.8" cy="135.8" r="1.3" fill="#78bc62"/>
<circle cx="467.3" cy="68.9" r="1.3" fill="#78bc62"/>
<circle cx="414.6" cy="105.4" r="1.3" fill="#78bc62"/>
<circle cx="398.6" cy="112.1" r="1.3" fill="#78bc62"/>
<circle cx="405.4" cy="98.2" r="1.3" fill="#78bc62"/>
<circle cx="398.0" cy="133.6" r="1.3" fill="#78bc62"/>
<circle cx="430.5" cy="95.2" r="1.3" fill="#78bc62"/>
<circle cx="392.0" cy="136.2" r="1.3" fill="#78bc62"/>
<circle cx="403.4" cy="107.7" r="1.3" fill="#78bc62"/>
<circle cx="408.2" cy="92.6" r="1.3" fill="#78bc62"/>
<circle cx="406.5" cy="98.2" r="1.3" fill="#78bc62"/>
<circle cx="418.4" cy="125.3" r="1.3" fill="#78bc62"/>
<circle cx="407.8" cy="135.2" r="1.3" fill="#78bc62"/>
<circle cx="374.5" cy="116.4" r="1.3" fill="#78bc62"/>
<circle cx="447.2" cy="68.6" r="1.3" fill="#78bc62"/>
<circle cx="412.5" cy="90.3" r="1.3" fill="#78bc62"/>
<circle cx="405.0" cy="125.2" r="1.3" fill="#78bc62"/>
<circle cx="412.0" cy="65.2" r="1.3" fill="#78bc62"/>
<circle cx="390.8" cy="124.9" r="1.3" fill="#78bc62"/>
<circle cx="411.1" cy="128.2" r="1.3" fill="#78bc62"/>
<circle cx="413.8" cy="83.8" r="1.3" fill="#78bc62"/>
<circle cx="400.4" cy="112.5" r="1.3" fill="#78bc62"/>
<circle cx="402.5" cy="129.7" r="1.3" fill="#78bc62"/>
<circle cx="418.4" cy="107.2" r="1.3" fill="#78bc62"/>
<circle cx="397.9" cy="111.2" r="1.3" fill="#78bc62"/>
<circle cx="412.9" cy="128.0" r="1.3" fill="#78bc62"/>
<circle cx="404.1" cy="89.6" r="1.3" fill="#78bc62"/>
<circle cx="362.2" cy="105.4" r="1.3" fill="#78bc62"/>
<circle cx="466.3" cy="55.5" r="1.3" fill="#78bc62"/>
<circle cx="429.8" cy="100.8" r="1.3" fill="#78bc62"/>
<circle cx="382.3" cy="125.8" r="1.3" fill="#78bc62"/>
<circle cx="408.7" cy="115.2" r="1.3" fill="#78bc62"/>
<circle cx="413.3" cy="110.9" r="1.3" fill="#78bc62"/>
<circle cx="389.9" cy="133.9" r="1.3" fill="#78bc62"/>
<circle cx="370.4" cy="126.7" r="1.3" fill="#78bc62"/>
<circle cx="406.3" cy="131.5" r="1.3" fill="#78bc62"/>
<circle cx="437.9" cy="85.7" r="1.3" fill="#78bc62"/>
<circle cx="396.4" cy="116.6" r="1.3" fill="#78bc62"/>
<circle cx="407.1" cy="107.5" r="1.3" fill="#78bc62"/>
<circle cx="397.2" cy="135.7" r="1.3" fill="#78bc62"/>
<circle cx="413.1" cy="65.3" r="1.3" fill="#78bc62"/>
<circle cx="423.7" cy="94.0" r="1.3" fill="#78bc62"/>
<circle cx="411.4" cy="89.3" r="1.3" fill="#78bc62"/>
<circle cx="407.4" cy="88.8" r="1.3" fill="#78bc62"/>
<circle cx="373.7" cy="124.4" r="1.3" fill="#78bc62"/>
<circle cx="429.0" cy="108.2" r="1.3" fill="#78bc62"/>
<circle cx="398.3" cy="94.9" r="1.3" fill="#78bc62"/>
<circle cx="398.8" cy="111.7" r="1.3" fill="#78bc62"/>
<circle cx="409.1" cy="95.0" r="1.3" fill="#78bc62"/>
<circle cx="406.5" cy="130.1" r="1.3" fill="#78bc62"/>
<circle cx="427.7" cy="81.1" r="1.3" fill="#78bc62"/>
<circle cx="389.0" cy="119.0" r="1.3" fill="#78bc62"/>
<circle cx="408.9" cy="96.5" r="1.3" fill="#78bc62"/>
<circle cx="455.7" cy="47.1" r="1.3" fill="#78bc62"/>
<circle cx="452.9" cy="65.5" r="1.3" fill="#78bc62"/>
<circle cx="393.8" cy="128.7" r="1.3" fill="#78bc62"/>
<circle cx="416.7" cy="84.4" r="1.3" fill="#78bc62"/>
<circle cx="430.5" cy="110.3" r="1.3" fill="#78bc62"/>
<circle cx="417.4" cy="103.0" r="1.3" fill="#78bc62"/>
<circle cx="410.8" cy="110.1" r="1.3" fill="#78bc62"/>
<circle cx="397.4" cy="103.6" r="1.3" fill="#78bc62"/>
<circle cx="399.6" cy="106.7" r="1.3" fill="#78bc62"/>
<circle cx="400.1" cy="112.3" r="1.3" fill="#78bc62"/>
<circle cx="408.8" cy="132.6" r="1.3" fill="#78bc62"/>
<circle cx="423.7" cy="88.0" r="1.3" fill="#78bc62"/>
<circle cx="409.9" cy="78.7" r="1.3" fill="#78bc62"/>
<circle cx="374.7" cy="137.8" r="1.3" fill="#78bc62"/>
<circle cx="420.9" cy="105.7" r="1.3" fill="#78bc62"/>
<circle cx="383.0" cy="110.8" r="1.3" fill="#78bc62"/>
<circle cx="424.3" cy="158.2" r="1.3" fill="#78bc62"/>
<circle cx="449.1" cy="50.3" r="1.3" fill="#78bc62"/>
<circle cx="428.7" cy="92.4" r="1.3" fill="#78bc62"/>
<circle cx="406.1" cy="94.3" r="1.3" fill="#78bc62"/>
<circle cx="400.5" cy="89.7" r="1.3" fill="#78bc62"/>
<circle cx="423.6" cy="91.4" r="1.3" fill="#78bc62"/>
<circle cx="439.3" cy="114.6" r="1.3" fill="#78bc62"/>
<circle cx="402.9" cy="111.3" r="1.3" fill="#78bc62"/>
<circle cx="450.8" cy="71.4" r="1.3" fill="#78bc62"/>
<circle cx="440.8" cy="60.6" r="1.3" fill="#78bc62"/>
<circle cx="389.4" cy="138.2" r="1.3" fill="#78bc62"/>
<circle cx="390.9" cy="125.8" r="1.3" fill="#78bc62"/>
<circle cx="399.3" cy="107.6" r="1.3" fill="#78bc62"/>
<circle cx="407.2" cy="132.2" r="1.3" fill="#78bc62"/>
<circle cx="403.2" cy="113.3" r="1.3" fill="#78bc62"/>
<circle cx="419.9" cy="121.5" r="1.3" fill="#78bc62"/>
<circle cx="422.5" cy="75.8" r="1.3" fill="#78bc62"/>
<circle cx="399.8" cy="104.3" r="1.3" fill="#78bc62"/>
<circle cx="407.4" cy="121.7" r="1.3" fill="#78bc62"/>
<circle cx="404.8" cy="113.8" r="1.3" fill="#78bc62"/>
<circle cx="383.2" cy="121.0" r="1.3" fill="#78bc62"/>
<circle cx="443.5" cy="70.9" r="1.3" fill="#78bc62"/>
<circle cx="422.0" cy="106.5" r="1.3" fill="#78bc62"/>
<circle cx="389.3" cy="107.2" r="1.3" fill="#78bc62"/>
<circle cx="414.6" cy="98.5" r="1.3" fill="#78bc62"/>
<circle cx="405.4" cy="131.2" r="1.3" fill="#78bc62"/>
<circle cx="391.3" cy="101.1" r="1.3" fill="#78bc62"/>
<circle cx="398.6" cy="123.0" r="1.3" fill="#78bc62"/>
<circle cx="392.6" cy="136.7" r="1.3" fill="#78bc62"/>
<circle cx="415.0" cy="122.3" r="1.3" fill="#78bc62"/>
<circle cx="443.1" cy="61.8" r="1.3" fill="#78bc62"/>
<circle cx="447.8" cy="53.1" r="1.3" fill="#78bc62"/>
<circle cx="418.1" cy="115.3" r="1.3" fill="#78bc62"/>
<circle cx="423.5" cy="92.8" r="1.3" fill="#78bc62"/>
<circle cx="402.9" cy="131.7" r="1.3" fill="#78bc62"/>
<circle cx="427.1" cy="95.2" r="1.3" fill="#78bc62"/>
<circle cx="410.6" cy="105.7" r="1.3" fill="#78bc62"/>
<circle cx="396.4" cy="126.2" r="1.3" fill="#78bc62"/>
<circle cx="417.0" cy="89.7" r="1.3" fill="#78bc62"/>
<circle cx="441.5" cy="78.2" r="1.3" fill="#78bc62"/>
<circle cx="478.9" cy="36.6" r="1.3" fill="#78bc62"/>
<circle cx="378.8" cy="113.0" r="1.3" fill="#78bc62"/>
<circle cx="377.2" cy="127.2" r="1.3" fill="#78bc62"/>
<circle cx="446.7" cy="58.9" r="1.3" fill="#78bc62"/>
<circle cx="381.6" cy="144.1" r="1.3" fill="#78bc62"/>
<circle cx="436.4" cy="75.4" r="1.3" fill="#78bc62"/>
<circle cx="426.8" cy="129.7" r="1.3" fill="#78bc62"/>
<circle cx="421.7" cy="102.6" r="1.3" fill="#78bc62"/>
<circle cx="426.9" cy="77.7" r="1.3" fill="#78bc62"/>
<circle cx="392.9" cy="110.0" r="1.3" fill="#78bc62"/>
<circle cx="384.4" cy="123.3" r="1.3" fill="#78bc62"/>
<circle cx="444.8" cy="74.3" r="1.3" fill="#78bc62"/>
<circle cx="419.4" cy="76.3" r="1.3" fill="#78bc62"/>
<circle cx="405.5" cy="111.6" r="1.3" fill="#78bc62"/>
<circle cx="388.4" cy="123.9" r="1.3" fill="#78bc62"/>
<circle cx="404.2" cy="107.1" r="1.3" fill="#78bc62"/>
<circle cx="428.7" cy="108.0" r="1.3" fill="#78bc62"/>
<circle cx="442.0" cy="62.3" r="1.3" fill="#78bc62"/>
<circle cx="361.8" cy="104.6" r="1.3" fill="#78bc62"/>
<circle cx="430.7" cy="97.7" r="1.3" fill="#78bc62"/>
<circle cx="393.0" cy="120.8" r="1.3" fill="#78bc62"/>
<circle cx="395.6" cy="100.9" r="1.3" fill="#78bc62"/>
<circle cx="361.2" cy="155.7" r="1.3" fill="#78bc62"/>
<circle cx="386.1" cy="109.6" r="1.3" fill="#78bc62"/>
<circle cx="390.9" cy="85.6" r="1.3" fill="#78bc62"/>
<circle cx="397.6" cy="111.1" r="1.3" fill="#78bc62"/>
<circle cx="408.0" cy="84.7" r="1.3" fill="#78bc62"/>
<circle cx="450.8" cy="148.3" r="1.3" fill="#78bc62"/>
<circle cx="395.0" cy="112.6" r="1.3" fill="#78bc62"/>
<circle cx="388.9" cy="117.3" r="1.3" fill="#78bc62"/>
<circle cx="417.9" cy="107.0" r="1.3" fill="#78bc62"/>
<circle cx="389.8" cy="103.9" r="1.3" fill="#78bc62"/>
<circle cx="413.2" cy="88.2" r="1.3" fill="#78bc62"/>
<circle cx="413.0" cy="133.8" r="1.3" fill="#78bc62"/>
<circle cx="441.7" cy="79.4" r="1.3" fill="#78bc62"/>
<circle cx="405.0" cy="124.9" r="1.3" fill="#78bc62"/>
<circle cx="390.2" cy="117.3" r="1.3" fill="#78bc62"/>
<circle cx="414.4" cy="98.2" r="1.3" fill="#78bc62"/>
<circle cx="393.9" cy="105.4" r="1.3" fill="#78bc62"/>
<circle cx="467.4" cy="80.9" r="1.3" fill="#78bc62"/>
<circle cx="386.2" cy="122.6" r="1.3" fill="#78bc62"/>
<circle cx="421.6" cy="69.7" r="1.3" fill="#78bc62"/>
<circle cx="376.6" cy="123.1" r="1.3" fill="#78bc62"/>
<circle cx="430.5" cy="99.2" r="1.3" fill="#78bc62"/>
<circle cx="388.0" cy="105.2" r="1.3" fill="#78bc62"/>
<circle cx="348.7" cy="124.9" r="1.3" fill="#78bc62"/>
<circle cx="432.1" cy="55.6" r="1.3" fill="#78bc62"/>
<circle cx="446.5" cy="67.1" r="1.3" fill="#78bc62"/>
<circle cx="390.2" cy="106.1" r="1.3" fill="#78bc62"/>
<circle cx="441.2" cy="80.2" r="1.3" fill="#78bc62"/>
<circle cx="400.4" cy="98.0" r="1.3" fill="#78bc62"/>
<circle cx="385.8" cy="123.0" r="1.3" fill="#78bc62"/>
<circle cx="378.1" cy="129.7" r="1.3" fill="#78bc62"/>
<circle cx="415.1" cy="121.7" r="1.3" fill="#78bc62"/>
<circle cx="401.4" cy="138.1" r="1.3" fill="#78bc62"/>
<circle cx="418.9" cy="90.8" r="1.3" fill="#78bc62"/>
<circle cx="391.8" cy="122.3" r="1.3" fill="#78bc62"/>
<circle cx="412.6" cy="110.9" r="1.3" fill="#78bc62"/>
<circle cx="407.0" cy="143.5" r="1.3" fill="#78bc62"/>
<circle cx="399.9" cy="83.3" r="1.3" fill="#78bc62"/>
<circle cx="387.3" cy="118.6" r="1.3" fill="#78bc62"/>
<circle cx="417.0" cy="102.3" r="1.3" fill="#78bc62"/>
<circle cx="424.2" cy="102.3" r="1.3" fill="#78bc62"/>
<circle cx="395.6" cy="113.6" r="1.3" fill="#78bc62"/>
<circle cx="399.5" cy="97.1" r="1.3" fill="#78bc62"/>
<circle cx="394.1" cy="122.7" r="1.3" fill="#78bc62"/>
<circle cx="405.2" cy="130.5" r="1.3" fill="#78bc62"/>
<circle cx="391.6" cy="75.6" r="1.3" fill="#78bc62"/>
<circle cx="413.0" cy="110.9" r="1.3" fill="#78bc62"/>
<circle cx="384.4" cy="138.3" r="1.3" fill="#78bc62"/>
<circle cx="422.1" cy="97.4" r="1.3" fill="#78bc62"/>
<circle cx="383.7" cy="117.9" r="1.3" fill="#78bc62"/>
<circle cx="378.5" cy="118.0" r="1.3" fill="#78bc62"/>
<circle cx="355.2" cy="123.7" r="1.3" fill="#78bc62"/>
<circle cx="429.1" cy="95.1" r="1.3" fill="#78bc62"/>
<circle cx="433.5" cy="66.5" r="1.3" fill="#78bc62"/>
<circle cx="398.0" cy="87.3" r="1.3" fill="#78bc62"/>
<circle cx="418.3" cy="81.9" r="1.3" fill="#78bc62"/>
<circle cx="414.0" cy="93.9" r="1.3" fill="#78bc62"/>
<circle cx="425.1" cy="73.3" r="1.3" fill="#78bc62"/>
<circle cx="398.8" cy="107.7" r="1.3" fill="#78bc62"/>
<circle cx="375.3" cy="117.2" r="1.3" fill="#78bc62"/>
<circle cx="404.5" cy="132.0" r="1.3" fill="#78bc62"/>
<circle cx="392.2" cy="104.1" r="1.3" fill="#78bc62"/>
<circle cx="411.4" cy="110.3" r="1.3" fill="#78bc62"/>
<circle cx="401.2" cy="74.2" r="1.3" fill="#78bc62"/>
<circle cx="405.4" cy="110.7" r="1.3" fill="#78bc62"/>
<circle cx="382.8" cy="123.2" r="1.3" fill="#78bc62"/>
<circle cx="469.3" cy="88.7" r="1.3" fill="#78bc62"/>
<circle cx="419.6" cy="92.0" r="1.3" fill="#78bc62"/>
<circle cx="406.5" cy="92.9" r="1.3" fill="#78bc62"/>
<circle cx="416.6" cy="104.5" r="1.3" fill="#78bc62"/>
<circle cx="441.5" cy="82.4" r="1.3" fill="#78bc62"/>
<circle cx="430.7" cy="70.6" r="1.3" fill="#78bc62"/>
<circle cx="413.1" cy="95.7" r="1.3" fill="#78bc62"/>
<circle cx="406.8" cy="92.3" r="1.3" fill="#78bc62"/>
<circle cx="419.6" cy="101.2" r="1.3" fill="#78bc62"/>
<circle cx="366.6" cy="118.9" r="1.3" fill="#78bc62"/>
<circle cx="397.0" cy="134.7" r="1.3" fill="#78bc62"/>
<circle cx="397.9" cy="75.5" r="1.3" fill="#78bc62"/>
<circle cx="413.5" cy="108.0" r="1.3" fill="#78bc62"/>
<circle cx="400.5" cy="100.5" r="1.3" fill="#78bc62"/>
<circle cx="412.4" cy="90.9" r="1.3" fill="#78bc62"/>
<circle cx="458.1" cy="60.6" r="1.3" fill="#78bc62"/>
<circle cx="398.1" cy="78.5" r="1.3" fill="#78bc62"/>
<circle cx="420.5" cy="105.3" r="1.3" fill="#78bc62"/>
<circle cx="427.6" cy="114.9" r="1.3" fill="#78bc62"/>
<circle cx="404.5" cy="88.7" r="1.3" fill="#78bc62"/>
<circle cx="391.8" cy="122.8" r="1.3" fill="#78bc62"/>
<circle cx="413.2" cy="115.7" r="1.3" fill="#78bc62"/>
<circle cx="369.0" cy="133.6" r="1.3" fill="#78bc62"/>
<circle cx="390.3" cy="122.3" r="1.3" fill="#78bc62"/>
<circle cx="450.3" cy="38.5" r="1.3" fill="#78bc62"/>
<circle cx="404.1" cy="115.4" r="1.3" fill="#78bc62"/>
<circle cx="360.2" cy="123.6" r="1.3" fill="#78bc62"/>
<circle cx="388.7" cy="102.5" r="1.3" fill="#78bc62"/>
<circle cx="400.7" cy="120.4" r="1.3" fill="#78bc62"/>
<circle cx="396.7" cy="112.4" r="1.3" fill="#78bc62"/>
<circle cx="415.8" cy="110.9" r="1.3" fill="#78bc62"/>
<circle cx="465.2" cy="76.4" r="1.3" fill="#78bc62"/>
<circle cx="387.4" cy="127.2" r="1.3" fill="#78bc62"/>
<circle cx="407.6" cy="102.4" r="1.3" fill="#78bc62"/>
<circle cx="427.5" cy="84.4" r="1.3" fill="#78bc62"/>
<circle cx="417.5" cy="85.8" r="1.3" fill="#78bc62"/>
<circle cx="405.8" cy="101.8" r="1.3" fill="#78bc62"/>
<circle cx="393.9" cy="101.0" r="1.3" fill="#78bc62"/>
<circle cx="447.5" cy="72.8" r="1.3" fill="#78bc62"/>
<circle cx="417.4" cy="152.5" r="1.3" fill="#78bc62"/>
<circle cx="419.0" cy="91.7" r="1.3" fill="#78bc62"/>
<circle cx="413.8" cy="117.5" r="1.3" fill="#78bc62"/>
<circle cx="369.0" cy="140.5" r="1.3" fill="#78bc62"/>
<circle cx="366.6" cy="96.4" r="1.3" fill="#78bc62"/>
<circle cx="448.7" cy="88.2" r="1.3" fill="#78bc62"/>
<circle cx="424.3" cy="103.7" r="1.3" fill="#78bc62"/>
<circle cx="414.7" cy="96.4" r="1.3" fill="#78bc62"/>
<circle cx="390.0" cy="133.2" r="1.3" fill="#78bc62"/>
<circle cx="433.9" cy="90.9" r="1.3" fill="#78bc62"/>
<circle cx="446.6" cy="132.2" r="1.3" fill="#78bc62"/>
<circle cx="395.8" cy="122.2" r="1.3" fill="#78bc62"/>
<path d="M434.2 67.2L435.7 69.9L432.7 69.9Z" fill="#2a3a90"/>
<path d="M464.1 52.0L465.6 54.7L462.6 54.7Z" fill="#2a3a90"/>
<rect x="402.5" y="85.7" width="2.1" height="2.1" fill="#d03038"/>
<rect x="442.8" y="54.4" width="2.1" height="2.1" fill="#d03038"/>
<path d="M428.0 118.1L429.5 120.8L426.5 120.8Z" fill="#2a3a90"/>
<path d="M434.8 73.4L436.3 76.1L433.3 76.1Z" fill="#2a3a90"/>
<rect x="406.4" y="107.2" width="2.1" height="2.1" fill="#d03038"/>
<path d="M448.9 74.9L450.4 77.6L447.4 77.6Z" fill="#2a3a90"/>
<path d="M429.5 59.4L431.0 62.1L428.0 62.1Z" fill="#2a3a90"/>
<path d="M427.5 63.7L429.0 66.4L426.0 66.4Z" fill="#2a3a90"/>
<rect x="454.9" y="70.5" width="2.1" height="2.1" fill="#d03038"/>
<rect x="402.2" y="81.5" width="2.1" height="2.1" fill="#d03038"/>
<rect x="422.7" y="92.6" width="2.1" height="2.1" fill="#d03038"/>
<path d="M430.6 61.5L432.1 64.2L429.1 64.2Z" fill="#2a3a90"/>
<rect x="392.1" y="86.5" width="2.1" height="2.1" fill="#d03038"/>
<rect x="432.9" y="75.3" width="2.1" height="2.1" fill="#d03038"/>
<path d="M436.1 102.3L437.6 105.0L434.6 105.0Z" fill="#2a3a90"/>
<path d="M437.5 88.2L439.0 90.9L436.0 90.9Z" fill="#2a3a90"/>
<path d="M424.3 90.9L425.8 93.6L422.8 93.6Z" fill="#2a3a90"/>
<path d="M377.2 104.8L378.7 107.5L375.7 107.5Z" fill="#2a3a90"/>
<path d="M459.8 53.8L461.3 56.5L458.3 56.5Z" fill="#2a3a90"/>
<path d="M440.0 116.4L441.5 119.1L438.5 119.1Z" fill="#2a3a90"/>
<rect x="412.5" y="104.8" width="2.1" height="2.1" fill="#d03038"/>
<path d="M416.6 70.5L418.1 73.2L415.1 73.2Z" fill="#2a3a90"/>
<path d="M438.2 76.1L439.7 78.8L436.7 78.8Z" fill="#2a3a90"/>
<rect x="430.9" y="119.0" width="2.1" height="2.1" fill="#d03038"/>
<rect x="416.4" y="95.1" width="2.1" height="2.1" fill="#d03038"/>
<path d="M497.9 118.2L499.4 120.9L496.4 120.9Z" fill="#2a3a90"/>
<path d="M386.8 92.9L388.3 95.6L385.3 95.6Z" fill="#2a3a90"/>
<path d="M424.8 89.8L426.3 92.5L423.3 92.5Z" fill="#2a3a90"/>
<path d="M428.2 100.0L429.7 102.7L426.7 102.7Z" fill="#2a3a90"/>
<path d="M407.0 86.1L408.5 88.8L405.5 88.8Z" fill="#2a3a90"/>
<path d="M441.5 53.6L443.0 56.3L440.0 56.3Z" fill="#2a3a90"/>
<rect x="461.4" y="70.5" width="2.1" height="2.1" fill="#d03038"/>
<rect x="427.3" y="104.7" width="2.1" height="2.1" fill="#d03038"/>
<path d="M465.1 61.1L466.6 63.8L463.6 63.8Z" fill="#2a3a90"/>
<path d="M442.6 50.2L444.1 52.9L441.1 52.9Z" fill="#2a3a90"/>
<path d="M412.0 156.4L413.5 159.1L410.5 159.1Z" fill="#2a3a90"/>
<rect x="420.4" y="66.1" width="2.1" height="2.1" fill="#d03038"/>
<path d="M465.5 50.5L467.0 53.2L464.0 53.2Z" fill="#2a3a90"/>
<rect x="430.4" y="69.0" width="2.1" height="2.1" fill="#d03038"/>
<path d="M457.5 157.9L459.0 160.6L456.0 160.6Z" fill="#2a3a90"/>
<path d="M508.4 128.1L509.9 130.8L506.9 130.8Z" fill="#2a3a90"/>
<path d="M432.9 104.0L434.4 106.7L431.4 106.7Z" fill="#2a3a90"/>
<path d="M476.3 31.6L477.8 34.3L474.8 34.3Z" fill="#2a3a90"/>
<rect x="441.6" y="152.8" width="2.1" height="2.1" fill="#d03038"/>
<path d="M441.7 64.0L443.2 66.7L440.2 66.7Z" fill="#2a3a90"/>
<path d="M420.5 92.5L422.0 95.2L419.0 95.2Z" fill="#2a3a90"/>
<rect x="429.8" y="106.6" width="2.1" height="2.1" fill="#d03038"/>
<path d="M409.3 89.0L410.8 91.7L407.8 91.7Z" fill="#2a3a90"/>
<rect x="416.9" y="163.9" width="2.1" height="2.1" fill="#d03038"/>
<rect x="360.8" y="143.0" width="2.1" height="2.1" fill="#d03038"/>
<path d="M420.2 88.8L421.7 91.5L418.7 91.5Z" fill="#2a3a90"/>
<path d="M445.0 110.4L446.5 113.1L443.5 113.1Z" fill="#2a3a90"/>
<path d="M427.6 88.2L429.1 90.9L426.1 90.9Z" fill="#2a3a90"/>
<rect x="428.3" y="100.5" width="2.1" height="2.1" fill="#d03038"/>
<path d="M419.6 102.2L421.1 104.9L418.1 104.9Z" fill="#2a3a90"/>
<path d="M430.0 114.4L431.5 117.1L428.5 117.1Z" fill="#2a3a90"/>
<path d="M411.5 102.2L413.0 104.9L410.0 104.9Z" fill="#2a3a90"/>
<path d="M446.1 64.9L447.6 67.6L444.6 67.6Z" fill="#2a3a90"/>
<path d="M441.6 80.1L443.1 82.8L440.1 82.8Z" fill="#2a3a90"/>
<path d="M447.1 51.7L448.6 54.4L445.6 54.4Z" fill="#2a3a90"/>
<path d="M450.3 125.6L451.8 128.3L448.8 128.3Z" fill="#2a3a90"/>
<path d="M449.8 66.0L451.3 68.7L448.3 68.7Z" fill="#2a3a90"/>
<rect x="455.6" y="65.9" width="2.1" height="2.1" fill="#d03038"/>
<path d="M432.6 87.2L434.1 89.9L431.1 89.9Z" fill="#2a3a90"/>
<path d="M447.6 66.1L449.1 68.8L446.1 68.8Z" fill="#2a3a90"/>
<path d="M465.0 125.6L466.5 128.3L463.5 128.3Z" fill="#2a3a90"/>
<path d="M408.4 92.3L409.9 95.0L406.9 95.0Z" fill="#2a3a90"/>
<rect x="429.2" y="82.1" width="2.1" height="2.1" fill="#d03038"/>
<path d="M425.3 87.6L426.8 90.3L423.8 90.3Z" fill="#2a3a90"/>
<path d="M431.1 73.2L432.6 75.9L429.6 75.9Z" fill="#2a3a90"/>
<rect x="424.6" y="94.5" width="2.1" height="2.1" fill="#d03038"/>
<rect x="390.1" y="145.0" width="2.1" height="2.1" fill="#d03038"/>
<rect x="412.0" y="116.3" width="2.1" height="2.1" fill="#d03038"/>
<path d="M469.2 73.5L470.7 76.2L467.7 76.2Z" fill="#2a3a90"/>
<path d="M426.7 94.7L428.2 97.4L425.2 97.4Z" fill="#2a3a90"/>
<path d="M441.2 67.9L442.7 70.6L439.7 70.6Z" fill="#2a3a90"/>
<rect x="445.4" y="79.6" width="2.1" height="2.1" fill="#d03038"/>
<rect x="427.2" y="84.4" width="2.1" height="2.1" fill="#d03038"/>
<path d="M425.8 96.4L427.3 99.1L424.3 99.1Z" fill="#2a3a90"/>
<rect x="397.5" y="114.4" width="2.1" height="2.1" fill="#d03038"/>
<path d="M429.0 90.9L430.5 93.6L427.5 93.6Z" fill="#2a3a90"/>
<path d="M454.5 66.2L456.0 68.9L453.0 68.9Z" fill="#2a3a90"/>
<path d="M444.9 66.7L446.4 69.4L443.4 69.4Z" fill="#2a3a90"/>
<rect x="430.6" y="104.6" width="2.1" height="2.1" fill="#d03038"/>
<path d="M457.0 109.6L458.5 112.3L455.5 112.3Z" fill="#2a3a90"/>
<path d="M458.4 38.6L459.9 41.3L456.9 41.3Z" fill="#2a3a90"/>
<path d="M424.2 107.8L425.7 110.5L422.7 110.5Z" fill="#2a3a90"/>
<path d="M356.4 54.9L357.9 57.6L354.9 57.6Z" fill="#2a3a90"/>
<path d="M453.0 96.3L454.5 99.0L451.5 99.0Z" fill="#2a3a90"/>
<rect x="417.4" y="73.3" width="2.1" height="2.1" fill="#d03038"/>
<path d="M443.0 64.2L444.5 66.9L441.5 66.9Z" fill="#2a3a90"/>
<rect x="465.9" y="41.1" width="2.1" height="2.1" fill="#d03038"/>
<path d="M457.2 79.7L458.7 82.4L455.7 82.4Z" fill="#2a3a90"/>
<rect x="429.0" y="82.6" width="2.1" height="2.1" fill="#d03038"/>
<path d="M436.0 156.6L437.5 159.3L434.5 159.3Z" fill="#2a3a90"/>
<path d="M486.4 75.9L487.9 78.6L484.9 78.6Z" fill="#2a3a90"/>
<path d="M474.1 65.2L475.6 67.9L472.6 67.9Z" fill="#2a3a90"/>
<path d="M427.9 53.7L429.4 56.4L426.4 56.4Z" fill="#2a3a90"/>
<path d="M417.5 66.5L419.0 69.2L416.0 69.2Z" fill="#2a3a90"/>
<path d="M432.7 83.0L434.2 85.7L431.2 85.7Z" fill="#2a3a90"/>
<path d="M446.4 78.0L447.9 80.7L444.9 80.7Z" fill="#2a3a90"/>
<rect x="443.9" y="85.3" width="2.1" height="2.1" fill="#d03038"/>
<path d="M447.2 63.2L448.7 65.9L445.7 65.9Z" fill="#2a3a90"/>
<path d="M450.9 55.5L452.4 58.2L449.4 58.2Z" fill="#2a3a90"/>
<path d="M432.3 85.7L433.8 88.4L430.8 88.4Z" fill="#2a3a90"/>
<path d="M451.3 70.6L452.8 73.3L449.8 73.3Z" fill="#2a3a90"/>
<path d="M430.5 81.6L432.0 84.3L429.0 84.3Z" fill="#2a3a90"/>
<rect x="419.9" y="72.5" width="2.1" height="2.1" fill="#d03038"/>
<rect x="387.3" y="82.8" width="2.1" height="2.1" fill="#d03038"/>
<path d="M481.6 60.4L483.1 63.1L480.1 63.1Z" fill="#2a3a90"/>
<path d="M440.6 75.0L442.1 77.7L439.1 77.7Z" fill="#2a3a90"/>
<path d="M415.0 102.8L416.5 105.5L413.5 105.5Z" fill="#2a3a90"/>
<path d="M407.3 49.6L408.8 52.3L405.8 52.3Z" fill="#2a3a90"/>
<path d="M453.9 63.6L455.4 66.3L452.4 66.3Z" fill="#2a3a90"/>
<path d="M465.3 73.3L466.8 76.0L463.8 76.0Z" fill="#2a3a90"/>
<path d="M510.8 152.2L512.3 154.9L509.3 154.9Z" fill="#2a3a90"/>
<path d="M411.6 82.4L413.1 85.1L410.1 85.1Z" fill="#2a3a90"/>
<rect x="373.8" y="116.4" width="2.1" height="2.1" fill="#d03038"/>
<rect x="447.4" y="94.8" width="2.1" height="2.1" fill="#d03038"/>
<rect x="400.0" y="78.8" width="2.1" height="2.1" fill="#d03038"/>
<rect x="401.8" y="81.7" width="2.1" height="2.1" fill="#d03038"/>
<path d="M414.5 126.8L416.0 129.5L413.0 129.5Z" fill="#2a3a90"/>
<rect x="446.6" y="61.6" width="2.1" height="2.1" fill="#d03038"/>
<path d="M445.0 50.4L446.5 53.1L443.5 53.1Z" fill="#2a3a90"/>
<path d="M428.7 73.9L430.2 76.6L427.2 76.6Z" fill="#2a3a90"/>
<path d="M445.3 73.0L446.8 75.7L443.8 75.7Z" fill="#2a3a90"/>
<path d="M410.4 96.9L411.9 99.6L408.9 99.6Z" fill="#2a3a90"/>
<path d="M429.1 95.0L430.6 97.7L427.6 97.7Z" fill="#2a3a90"/>
<rect x="393.6" y="153.9" width="2.1" height="2.1" fill="#d03038"/>
<path d="M421.5 63.0L423.0 65.7L420.0 65.7Z" fill="#2a3a90"/>
<rect x="426.9" y="126.0" width="2.1" height="2.1" fill="#d03038"/>
<path d="M426.6 65.6L428.1 68.3L425.1 68.3Z" fill="#2a3a90"/>
<path d="M380.3 51.1L381.8 53.8L378.8 53.8Z" fill="#2a3a90"/>
<path d="M431.2 88.6L432.7 91.3L429.7 91.3Z" fill="#2a3a90"/>
<path d="M433.0 159.1L434.5 161.8L431.5 161.8Z" fill="#2a3a90"/>
<path d="M449.0 108.4L450.5 111.1L447.5 111.1Z" fill="#2a3a90"/>
<path d="M444.0 79.7L445.5 82.4L442.5 82.4Z" fill="#2a3a90"/>
<rect x="408.0" y="73.9" width="2.1" height="2.1" fill="#d03038"/>
<path d="M450.0 46.6L451.5 49.3L448.5 49.3Z" fill="#2a3a90"/>
<path d="M448.6 48.5L450.1 51.2L447.1 51.2Z" fill="#2a3a90"/>
<path d="M434.4 64.1L435.9 66.8L432.9 66.8Z" fill="#2a3a90"/>
<path d="M467.5 78.9L469.0 81.6L466.0 81.6Z" fill="#2a3a90"/>
<rect x="454.2" y="31.4" width="2.1" height="2.1" fill="#d03038"/>
<rect x="431.5" y="67.6" width="2.1" height="2.1" fill="#d03038"/>
<path d="M416.1 49.6L417.6 52.3L414.6 52.3Z" fill="#2a3a90"/>
<path d="M429.6 93.8L431.1 96.5L428.1 96.5Z" fill="#2a3a90"/>
<path d="M456.4 57.6L457.9 60.3L454.9 60.3Z" fill="#2a3a90"/>
<path d="M441.7 61.3L443.2 64.0L440.2 64.0Z" fill="#2a3a90"/>
<path d="M444.5 89.8L446.0 92.5L443.0 92.5Z" fill="#2a3a90"/>
<path d="M432.2 110.1L433.7 112.8L430.7 112.8Z" fill="#2a3a90"/>
<path d="M445.4 58.3L446.9 61.0L443.9 61.0Z" fill="#2a3a90"/>
<path d="M431.5 81.7L433.0 84.4L430.0 84.4Z" fill="#2a3a90"/>
<path d="M459.8 83.7L461.3 86.4L458.3 86.4Z" fill="#2a3a90"/>
<path d="M396.7 95.5L398.2 98.2L395.2 98.2Z" fill="#2a3a90"/>
<path d="M433.3 59.8L434.8 62.5L431.8 62.5Z" fill="#2a3a90"/>
<path d="M459.5 147.4L461.0 150.1L458.0 150.1Z" fill="#2a3a90"/>
<path d="M433.3 85.8L434.8 88.5L431.8 88.5Z" fill="#2a3a90"/>
<rect x="420.8" y="142.3" width="2.1" height="2.1" fill="#d03038"/>
<path d="M450.7 57.4L452.2 60.1L449.2 60.1Z" fill="#2a3a90"/>
<path d="M452.7 68.0L454.2 70.7L451.2 70.7Z" fill="#2a3a90"/>
<path d="M411.3 113.1L412.8 115.8L409.8 115.8Z" fill="#2a3a90"/>
<rect x="416.2" y="102.2" width="2.1" height="2.1" fill="#d03038"/>
<path d="M444.7 63.9L446.2 66.6L443.2 66.6Z" fill="#2a3a90"/>
<path d="M423.7 82.5L425.2 85.2L422.2 85.2Z" fill="#2a3a90"/>
<path d="M422.9 99.1L424.4 101.8L421.4 101.8Z" fill="#2a3a90"/>
<path d="M449.4 75.5L450.9 78.2L447.9 78.2Z" fill="#2a3a90"/>
<rect x="425.4" y="69.9" width="2.1" height="2.1" fill="#d03038"/>
<path d="M448.0 63.7L449.5 66.4L446.5 66.4Z" fill="#2a3a90"/>
<rect x="447.9" y="49.0" width="2.1" height="2.1" fill="#d03038"/>
<path d="M417.0 93.7L418.5 96.4L415.5 96.4Z" fill="#2a3a90"/>
<rect x="447.8" y="103.6" width="2.1" height="2.1" fill="#d03038"/>
<rect x="404.9" y="118.8" width="2.1" height="2.1" fill="#d03038"/>
<path d="M425.7 74.0L427.2 76.7L424.2 76.7Z" fill="#2a3a90"/>
<path d="M416.0 97.9L417.5 100.6L414.5 100.6Z" fill="#2a3a90"/>
<path d="M444.9 57.9L446.4 60.6L443.4 60.6Z" fill="#2a3a90"/>
<path d="M425.7 100.8L427.2 103.5L424.2 103.5Z" fill="#2a3a90"/>
<path d="M428.4 81.9L429.9 84.6L426.9 84.6Z" fill="#2a3a90"/>
<path d="M435.9 69.9L437.4 72.6L434.4 72.6Z" fill="#2a3a90"/>
<rect x="411.3" y="94.1" width="2.1" height="2.1" fill="#d03038"/>
<path d="M437.2 146.7L438.7 149.4L435.7 149.4Z" fill="#2a3a90"/>
<path d="M435.4 63.1L436.9 65.8L433.9 65.8Z" fill="#2a3a90"/>
<path d="M420.2 83.6L421.7 86.3L418.7 86.3Z" fill="#2a3a90"/>
<rect x="433.8" y="101.2" width="2.1" height="2.1" fill="#d03038"/>
<path d="M447.9 81.7L449.4 84.4L446.4 84.4Z" fill="#2a3a90"/>
<path d="M489.3 173.2L490.8 175.9L487.8 175.9Z" fill="#2a3a90"/>
<path d="M440.1 69.0L441.6 71.7L438.6 71.7Z" fill="#2a3a90"/>
<path d="M446.6 83.8L448.1 86.5L445.1 86.5Z" fill="#2a3a90"/>
<path d="M427.3 138.0L428.8 140.7L425.8 140.7Z" fill="#2a3a90"/>
<path d="M439.3 71.3L440.8 74.0L437.8 74.0Z" fill="#2a3a90"/>
<path d="M428.2 96.9L429.7 99.6L426.7 99.6Z" fill="#2a3a90"/>
<path d="M431.7 73.3L433.2 76.0L430.2 76.0Z" fill="#2a3a90"/>
<path d="M419.8 93.7L421.3 96.4L418.3 96.4Z" fill="#2a3a90"/>
<path d="M457.1 63.8L458.6 66.5L455.6 66.5Z" fill="#2a3a90"/>
<path d="M434.0 130.1L435.5 132.8L432.5 132.8Z" fill="#2a3a90"/>
<rect x="458.1" y="72.7" width="2.1" height="2.1" fill="#d03038"/>
<path d="M408.1 76.3L409.6 79.0L406.6 79.0Z" fill="#2a3a90"/>
<path d="M455.0 93.9L456.5 96.6L453.5 96.6Z" fill="#2a3a90"/>
<path d="M388.4 96.1L389.9 98.8L386.9 98.8Z" fill="#2a3a90"/>
<path d="M452.2 86.9L453.7 89.6L450.7 89.6Z" fill="#2a3a90"/>
<path d="M418.0 91.4L419.5 94.1L416.5 94.1Z" fill="#2a3a90"/>
<path d="M405.2 58.4L406.7 61.1L403.7 61.1Z" fill="#2a3a90"/>
<path d="M460.2 102.8L461.7 105.5L458.7 105.5Z" fill="#2a3a90"/>
<path d="M433.2 69.6L434.7 72.3L431.7 72.3Z" fill="#2a3a90"/>
<path d="M450.1 50.1L451.6 52.8L448.6 52.8Z" fill="#2a3a90"/>
<path d="M439.2 45.6L440.7 48.3L437.7 48.3Z" fill="#2a3a90"/>
<path d="M430.3 94.6L431.8 97.3L428.8 97.3Z" fill="#2a3a90"/>
<path d="M419.2 95.8L420.7 98.5L417.7 98.5Z" fill="#2a3a90"/>
<path d="M432.0 97.1L433.5 99.8L430.5 99.8Z" fill="#2a3a90"/>
<rect x="415.3" y="94.5" width="2.1" height="2.1" fill="#d03038"/>
<path d="M415.8 88.4L417.3 91.1L414.3 91.1Z" fill="#2a3a90"/>
<path d="M494.6 59.8L496.1 62.5L493.1 62.5Z" fill="#2a3a90"/>
<path d="M463.4 53.9L464.9 56.6L461.9 56.6Z" fill="#2a3a90"/>
<path d="M405.7 75.3L407.2 78.0L404.2 78.0Z" fill="#2a3a90"/>
<rect x="413.8" y="139.8" width="2.1" height="2.1" fill="#d03038"/>
<rect x="352.8" y="98.8" width="2.1" height="2.1" fill="#d03038"/>
<path d="M456.4 55.0L457.9 57.7L454.9 57.7Z" fill="#2a3a90"/>
<path d="M479.2 45.8L480.7 48.5L477.7 48.5Z" fill="#2a3a90"/>
<path d="M383.9 95.9L385.4 98.6L382.4 98.6Z" fill="#2a3a90"/>
<path d="M417.0 62.2L418.5 64.9L415.5 64.9Z" fill="#2a3a90"/>
<path d="M425.8 72.9L427.3 75.6L424.3 75.6Z" fill="#2a3a90"/>
<rect x="424.1" y="75.1" width="2.1" height="2.1" fill="#d03038"/>
<path d="M458.5 78.8L460.0 81.5L457.0 81.5Z" fill="#2a3a90"/>
<rect x="428.2" y="152.8" width="2.1" height="2.1" fill="#d03038"/>
<rect x="455.9" y="66.0" width="2.1" height="2.1" fill="#d03038"/>
<path d="M462.0 106.9L463.5 109.6L460.5 109.6Z" fill="#2a3a90"/>
<path d="M449.2 54.3L450.7 57.0L447.7 57.0Z" fill="#2a3a90"/>
<path d="M406.0 104.6L407.5 107.3L404.5 107.3Z" fill="#2a3a90"/>
<path d="M444.6 61.7L446.1 64.4L443.1 64.4Z" fill="#2a3a90"/>
<path d="M443.9 86.3L445.4 89.0L442.4 89.0Z" fill="#2a3a90"/>
<path d="M439.7 85.9L441.2 88.6L438.2 88.6Z" fill="#2a3a90"/>
<path d="M446.2 60.3L447.7 63.0L444.7 63.0Z" fill="#2a3a90"/>
<path d="M463.2 42.7L464.7 45.4L461.7 45.4Z" fill="#2a3a90"/>
<path d="M444.5 69.2L446.0 71.9L443.0 71.9Z" fill="#2a3a90"/>
<path d="M452.2 93.1L453.7 95.8L450.7 95.8Z" fill="#2a3a90"/>
<path d="M442.2 68.6L443.7 71.3L440.7 71.3Z" fill="#2a3a90"/>
<rect x="412.3" y="87.3" width="2.1" height="2.1" fill="#d03038"/>
<path d="M400.5 60.4L402.0 63.1L399.0 63.1Z" fill="#2a3a90"/>
<rect x="408.9" y="145.9" width="2.1" height="2.1" fill="#d03038"/>
<path d="M406.7 89.8L408.2 92.5L405.2 92.5Z" fill="#2a3a90"/>
<path d="M470.0 106.4L471.5 109.1L468.5 109.1Z" fill="#2a3a90"/>
<rect x="406.7" y="99.8" width="2.1" height="2.1" fill="#d03038"/>
<rect x="459.7" y="88.7" width="2.1" height="2.1" fill="#d03038"/>
<path d="M435.6 66.0L437.1 68.7L434.1 68.7Z" fill="#2a3a90"/>
<circle cx="375.4" cy="120.4" r="1.8" fill="#000"/>
<circle cx="386.2" cy="122.2" r="1.8" fill="#000"/>
<circle cx="372.3" cy="129.8" r="1.8" fill="#000"/>
<circle cx="362.3" cy="118.1" r="1.8" fill="#000"/>
<circle cx="370.3" cy="120.0" r="1.8" fill="#000"/>
<circle cx="364.1" cy="126.7" r="1.8" fill="#000"/>
<circle cx="375.9" cy="128.6" r="1.8" fill="#000"/>
<circle cx="383.2" cy="120.0" r="1.8" fill="#000"/>
<circle cx="375.7" cy="125.4" r="1.8" fill="#000"/>
<circle cx="384.7" cy="121.9" r="1.8" fill="#000"/>
<circle cx="362.0" cy="116.1" r="1.8" fill="#000"/>
<circle cx="373.1" cy="123.2" r="1.8" fill="#000"/>
<circle cx="381.2" cy="117.4" r="1.8" fill="#000"/>
<circle cx="389.1" cy="120.3" r="1.8" fill="#000"/>
<circle cx="394.0" cy="122.7" r="1.8" fill="#000"/>
<circle cx="379.7" cy="127.4" r="1.8" fill="#000"/>
<circle cx="381.7" cy="123.6" r="1.8" fill="#000"/>
<circle cx="387.4" cy="121.4" r="1.8" fill="#000"/>
<circle cx="378.2" cy="125.9" r="1.8" fill="#000"/>
<circle cx="366.7" cy="119.9" r="1.8" fill="#000"/>
<circle cx="370.2" cy="129.7" r="1.8" fill="#000"/>
<circle cx="400.3" cy="120.2" r="1.8" fill="#000"/>
<circle cx="405.2" cy="100.5" r="1.8" fill="#000"/>
<circle cx="378.3" cy="127.5" r="1.8" fill="#000"/>
<circle cx="358.6" cy="129.4" r="1.8" fill="#000"/>
<circle cx="378.9" cy="120.4" r="1.8" fill="#000"/>
<circle cx="373.4" cy="117.7" r="1.8" fill="#000"/>
<circle cx="370.0" cy="123.5" r="1.8" fill="#000"/>
<circle cx="398.0" cy="118.3" r="1.8" fill="#000"/>
<circle cx="385.2" cy="121.3" r="1.8" fill="#000"/>
<circle cx="387.3" cy="121.7" r="1.8" fill="#000"/>
<circle cx="373.0" cy="115.0" r="1.8" fill="#000"/>
<circle cx="368.7" cy="153.4" r="1.8" fill="#000"/>
<circle cx="399.3" cy="117.7" r="1.8" fill="#000"/>
<circle cx="377.8" cy="113.9" r="1.8" fill="#000"/>
<circle cx="385.9" cy="125.6" r="1.8" fill="#000"/>
<circle cx="386.9" cy="115.1" r="1.8" fill="#000"/>
<circle cx="365.7" cy="125.1" r="1.8" fill="#000"/>
<circle cx="378.5" cy="128.1" r="1.8" fill="#000"/>
<circle cx="377.2" cy="129.5" r="1.8" fill="#000"/>
<circle cx="433.2" cy="111.6" r="1.8" fill="#000"/>
<circle cx="380.5" cy="126.5" r="1.8" fill="#000"/>
<circle cx="385.5" cy="124.6" r="1.8" fill="#000"/>
<circle cx="370.7" cy="120.9" r="1.8" fill="#000"/>
<circle cx="393.5" cy="133.0" r="1.8" fill="#000"/>
<circle cx="375.7" cy="114.3" r="1.8" fill="#000"/>
<circle cx="372.3" cy="129.0" r="1.8" fill="#000"/>
<circle cx="373.0" cy="127.7" r="1.8" fill="#000"/>
<circle cx="370.8" cy="124.5" r="1.8" fill="#000"/>
<circle cx="391.9" cy="120.8" r="1.8" fill="#000"/>
<circle cx="362.8" cy="124.5" r="1.8" fill="#000"/>
<circle cx="366.6" cy="118.4" r="1.8" fill="#000"/>
<circle cx="383.1" cy="122.6" r="1.8" fill="#000"/>
<circle cx="381.4" cy="125.5" r="1.8" fill="#000"/>
<circle cx="391.8" cy="118.1" r="1.8" fill="#000"/>
<circle cx="385.7" cy="125.3" r="1.8" fill="#000"/>
<circle cx="376.0" cy="116.6" r="1.8" fill="#000"/>
<circle cx="391.4" cy="124.3" r="1.8" fill="#000"/>
<circle cx="376.6" cy="126.9" r="1.8" fill="#000"/>
<circle cx="374.4" cy="119.5" r="1.8" fill="#000"/>
<circle cx="383.9" cy="120.3" r="1.8" fill="#000"/>
<circle cx="389.2" cy="120.4" r="1.8" fill="#000"/>
<circle cx="385.5" cy="120.7" r="1.8" fill="#000"/>
<circle cx="363.4" cy="131.0" r="1.8" fill="#000"/>
<circle cx="397.6" cy="114.0" r="1.8" fill="#000"/>
<circle cx="403.9" cy="113.3" r="1.8" fill="#000"/>
<circle cx="355.1" cy="125.9" r="1.8" fill="#000"/>
<circle cx="366.2" cy="126.3" r="1.8" fill="#000"/>
<circle cx="376.7" cy="126.1" r="1.8" fill="#000"/>
<circle cx="407.3" cy="130.5" r="1.8" fill="#000"/>
<circle cx="388.3" cy="131.3" r="1.8" fill="#000"/>
<circle cx="398.7" cy="125.2" r="1.8" fill="#000"/>
<circle cx="381.1" cy="124.9" r="1.8" fill="#000"/>
<circle cx="392.6" cy="121.2" r="1.8" fill="#000"/>
<circle cx="377.2" cy="121.1" r="1.8" fill="#000"/>
<circle cx="395.4" cy="122.3" r="1.8" fill="#000"/>
<circle cx="382.7" cy="126.7" r="1.8" fill="#000"/>
<circle cx="367.0" cy="130.5" r="1.8" fill="#000"/>
<circle cx="365.7" cy="119.7" r="1.8" fill="#000"/>
<circle cx="372.2" cy="125.8" r="1.8" fill="#000"/>
<circle cx="380.6" cy="117.8" r="1.8" fill="#000"/>
<circle cx="388.6" cy="116.8" r="1.8" fill="#000"/>
<circle cx="386.0" cy="125.8" r="1.8" fill="#000"/>
<circle cx="370.8" cy="117.6" r="1.8" fill="#000"/>
<circle cx="372.5" cy="129.8" r="1.8" fill="#000"/>
<circle cx="381.0" cy="108.9" r="1.8" fill="#000"/>
<circle cx="391.1" cy="111.7" r="1.8" fill="#000"/>
<circle cx="417.5" cy="112.7" r="1.8" fill="#000"/>
<circle cx="373.6" cy="123.9" r="1.8" fill="#000"/>
<circle cx="323.8" cy="134.3" r="1.8" fill="#000"/>
<circle cx="384.4" cy="115.5" r="1.8" fill="#000"/>
<circle cx="388.4" cy="121.0" r="1.8" fill="#000"/>
<circle cx="384.5" cy="124.4" r="1.8" fill="#000"/>
<circle cx="366.7" cy="123.6" r="1.8" fill="#000"/>
<circle cx="379.1" cy="123.2" r="1.8" fill="#000"/>
<circle cx="398.9" cy="124.2" r="1.8" fill="#000"/>
<circle cx="371.4" cy="149.5" r="1.8" fill="#000"/>
<circle cx="381.5" cy="121.0" r="1.8" fill="#000"/>
<circle cx="376.9" cy="125.8" r="1.8" fill="#000"/>
<circle cx="376.7" cy="121.3" r="1.8" fill="#000"/>
<circle cx="374.3" cy="123.9" r="1.8" fill="#000"/>
<circle cx="357.8" cy="124.3" r="1.8" fill="#000"/>
<circle cx="386.2" cy="121.9" r="1.8" fill="#000"/>
<circle cx="373.8" cy="117.1" r="1.8" fill="#000"/>
<circle cx="365.5" cy="126.9" r="1.8" fill="#000"/>
<circle cx="365.8" cy="125.6" r="1.8" fill="#000"/>
<circle cx="374.8" cy="122.4" r="1.8" fill="#000"/>
<circle cx="372.7" cy="128.0" r="1.8" fill="#000"/>
<circle cx="386.3" cy="125.0" r="1.8" fill="#000"/>
<circle cx="364.6" cy="125.7" r="1.8" fill="#000"/>
<circle cx="372.1" cy="142.5" r="1.8" fill="#000"/>
<circle cx="379.9" cy="127.5" r="1.8" fill="#000"/>
<circle cx="380.6" cy="125.8" r="1.8" fill="#000"/>
<circle cx="369.3" cy="116.6" r="1.8" fill="#000"/>
<circle cx="401.8" cy="126.4" r="1.8" fill="#000"/>
<circle cx="356.8" cy="126.6" r="1.8" fill="#000"/>
<circle cx="387.7" cy="118.6" r="1.8" fill="#000"/>
<circle cx="367.3" cy="144.1" r="1.8" fill="#000"/>
<circle cx="388.0" cy="122.6" r="1.8" fill="#000"/>
<circle cx="377.7" cy="121.4" r="1.8" fill="#000"/>
<circle cx="389.6" cy="117.9" r="1.8" fill="#000"/>
<circle cx="391.3" cy="112.0" r="1.8" fill="#000"/>
<circle cx="358.1" cy="128.6" r="1.8" fill="#000"/>
<circle cx="370.9" cy="124.4" r="1.8" fill="#000"/>
<circle cx="369.3" cy="128.0" r="1.8" fill="#000"/>
<circle cx="395.1" cy="129.1" r="1.8" fill="#000"/>
<circle cx="391.2" cy="116.3" r="1.8" fill="#000"/>
<circle cx="364.6" cy="124.5" r="1.8" fill="#000"/>
<circle cx="395.2" cy="124.4" r="1.8" fill="#000"/>
<circle cx="382.8" cy="120.1" r="1.8" fill="#000"/>
<circle cx="377.2" cy="130.3" r="1.8" fill="#000"/>
<circle cx="372.2" cy="121.2" r="1.8" fill="#000"/>
<circle cx="388.5" cy="122.9" r="1.8" fill="#000"/>
<circle cx="395.7" cy="123.6" r="1.8" fill="#000"/>
<circle cx="373.9" cy="129.2" r="1.8" fill="#000"/>
<circle cx="388.0" cy="113.1" r="1.8" fill="#000"/>
<circle cx="380.5" cy="122.2" r="1.8" fill="#000"/>
<circle cx="363.4" cy="117.2" r="1.8" fill="#000"/>
<circle cx="380.2" cy="128.7" r="1.8" fill="#000"/>
<circle cx="380.5" cy="117.4" r="1.8" fill="#000"/>
</g>
<line x1="409.96" y1="14.8" x2="409.96" y2="194.7" stroke="#333" stroke-width="1.1" stroke-dasharray="3.7 3"/>
<line x1="325.5" y1="108.16" x2="519.2" y2="108.16" stroke="#333" stroke-width="1.1" stroke-dasharray="3.7 3"/>
<line x1="325.5" y1="151.0" x2="519.2" y2="50.28" stroke="#000" stroke-width="1.1"/>
<text x="468.40" y="99.30" font-size="6.3" font-weight="normal" text-anchor="start" fill="#333" transform="rotate(-29.5 468.40 99.30)" stroke="#333" stroke-width="0.18">R2=0.613 (p=1E&#8722;16)</text>
<rect x="329.1" y="20.4" width="2" height="2" fill="#d03038"/>
<path d="M330.1 29.2L331.6 31.900000000000002L328.6 31.900000000000002Z" fill="#2a3a90"/>
<circle cx="330.1" cy="39.8" r="1.2" fill="none" stroke="#78bc62" stroke-width="0.7"/>
<circle cx="330.1" cy="48.6" r="1.4" fill="#000"/>
<text x="335.40" y="23.90" font-size="7.1" font-weight="normal" text-anchor="start" fill="#111" stroke="#111" stroke-width="0.18">TP53 Mutation only</text>
<text x="335.40" y="33.30" font-size="7.1" font-weight="normal" text-anchor="start" fill="#111" stroke="#111" stroke-width="0.18">YWHAZ/PTK2 amp</text>
<text x="335.40" y="42.30" font-size="7.1" font-weight="normal" text-anchor="start" fill="#111" stroke="#111" stroke-width="0.18">TP53/YWHAZ/PTK2 w/</text>
<text x="335.40" y="51.10" font-size="7.1" font-weight="normal" text-anchor="start" fill="#111" stroke="#111" stroke-width="0.18">Normal samples</text>
<text x="401.00" y="33.30" font-size="7.1" font-weight="normal" text-anchor="start" fill="#111" stroke="#111" stroke-width="0.18">+/&#8722;</text>
<text x="411.60" y="33.30" font-size="7.1" font-weight="normal" text-anchor="start" fill="#111" stroke="#111" stroke-width="0.18">mut TP53</text>
<text x="411.80" y="42.30" font-size="7.1" font-weight="normal" text-anchor="start" fill="#111" stroke="#111" stroke-width="0.18">(amp &lt; 2)</text>
<path d="M410.2 27 Q408.6 27 408.6 32 L408.6 34.5 Q408.6 36 407.6 36 Q408.6 36 408.6 37.5 L408.6 41 Q408.6 44 410.2 44" fill="none" stroke="#222" stroke-width="0.7"/>
<rect x="325.5" y="14.8" width="193.70000000000005" height="179.89999999999998" fill="none" stroke="#222" stroke-width="1.1"/>
<line x1="353.04" y1="194.7" x2="353.04" y2="197.2" stroke="#222" stroke-width="1.1"/>
<text x="353.04" y="204.90" font-size="6.6" font-weight="normal" text-anchor="middle" fill="#333" stroke="#333" stroke-width="0.18">&#8722;2</text>
<line x1="381.50" y1="194.7" x2="381.50" y2="197.2" stroke="#222" stroke-width="1.1"/>
<text x="381.50" y="204.90" font-size="6.6" font-weight="normal" text-anchor="middle" fill="#333" stroke="#333" stroke-width="0.18">0</text>
<line x1="409.96" y1="194.7" x2="409.96" y2="197.2" stroke="#222" stroke-width="1.1"/>
<text x="409.96" y="204.90" font-size="6.6" font-weight="normal" text-anchor="middle" fill="#333" stroke="#333" stroke-width="0.18">2</text>
<line x1="438.42" y1="194.7" x2="438.42" y2="197.2" stroke="#222" stroke-width="1.1"/>
<text x="438.42" y="204.90" font-size="6.6" font-weight="normal" text-anchor="middle" fill="#333" stroke="#333" stroke-width="0.18">4</text>
<line x1="466.88" y1="194.7" x2="466.88" y2="197.2" stroke="#222" stroke-width="1.1"/>
<text x="466.88" y="204.90" font-size="6.6" font-weight="normal" text-anchor="middle" fill="#333" stroke="#333" stroke-width="0.18">6</text>
<line x1="495.34" y1="194.7" x2="495.34" y2="197.2" stroke="#222" stroke-width="1.1"/>
<text x="495.34" y="204.90" font-size="6.6" font-weight="normal" text-anchor="middle" fill="#333" stroke="#333" stroke-width="0.18">8</text>
<line x1="322.9" y1="161.50" x2="325.5" y2="161.50" stroke="#222" stroke-width="1.1"/>
<text x="321.40" y="163.80" font-size="6.6" font-weight="normal" text-anchor="end" fill="#333" stroke="#333" stroke-width="0.18">&#8722;5</text>
<line x1="322.9" y1="123.40" x2="325.5" y2="123.40" stroke="#222" stroke-width="1.1"/>
<text x="321.40" y="125.70" font-size="6.6" font-weight="normal" text-anchor="end" fill="#333" stroke="#333" stroke-width="0.18">0</text>
<line x1="322.9" y1="85.30" x2="325.5" y2="85.30" stroke="#222" stroke-width="1.1"/>
<text x="321.40" y="87.60" font-size="6.6" font-weight="normal" text-anchor="end" fill="#333" stroke="#333" stroke-width="0.18">5</text>
<line x1="322.9" y1="47.20" x2="325.5" y2="47.20" stroke="#222" stroke-width="1.1"/>
<text x="321.40" y="49.50" font-size="6.6" font-weight="normal" text-anchor="end" fill="#333" stroke="#333" stroke-width="0.18">10</text>
<text x="419.50" y="217.60" font-size="7.3" font-weight="bold" text-anchor="middle" fill="#111" stroke="#111" stroke-width="0.15">YWHAZ Expr (SD)</text>
<text x="311.10" y="86.00" font-size="7.4" font-weight="bold" text-anchor="middle" fill="#111" transform="rotate(-90 311.10 86.00)" stroke="#111" stroke-width="0.15">PTK2 Expr (SD)</text>
<g clip-path="url(#clip76)">
<path d="M81.00 369.80 L81.00 369.80 L97.50 369.80 L97.50 368.00 L100.50 368.00 L100.50 369.80 L103.00 369.80 L103.00 368.00 L105.00 368.00 L105.00 369.80 L107.20 369.80 L107.20 363.70 L109.80 363.70 L109.80 367.50 L112.50 367.50 L112.50 364.50 L115.50 364.50 L115.50 368.00 L117.50 368.00 L117.50 363.50 L121.80 363.50 L121.80 364.50 L124.80 364.50 L124.80 346.20 L127.70 346.20 L127.70 352.00 L131.00 352.00 L131.00 349.00 L134.70 349.00 L134.70 345.20 L136.50 345.20 L136.50 311.50 L139.00 311.50 L139.00 323.80 L140.10 323.80 L140.10 325.70 L142.30 325.70 L142.30 331.00 L145.20 331.00 L145.20 343.20 L147.60 343.20 L147.60 335.00 L149.40 335.00 L149.40 326.70 L153.40 326.70 L153.40 330.20 L155.80 330.20 L155.80 316.30 L158.30 316.30 L158.30 320.80 L160.30 320.80 L160.30 340.00 L162.30 340.00 L162.30 306.40 L165.30 306.40 L165.30 335.90 L168.60 335.90 L168.60 347.60 L171.50 347.60 L171.50 338.80 L174.50 338.80 L174.50 354.90 L178.80 354.90 L178.80 356.40 L181.80 356.40 L181.80 361.00 L184.00 361.00 L184.00 352.00 L186.20 352.00 L186.20 357.50 L187.60 357.50 L187.60 350.50 L190.50 350.50 L190.50 360.80 L193.50 360.80 L193.50 363.70 L196.40 363.70 L196.40 369.80 L201.50 369.80 L201.50 367.50 L203.00 367.50 L203.00 369.80 L207.50 369.80 L207.50 367.50 L209.00 367.50 L209.00 369.80 L213.00 369.80 L213.00 367.50 L214.50 367.50 L214.50 369.80 L222.00 369.80 L222.00 367.50 L224.50 367.50 L224.50 369.80" fill="none" stroke="#e03c44" stroke-width="1.25" stroke-linejoin="miter"/>
<path d="M95.00 369.80 L95.00 369.80 L96.00 369.80 L96.00 368.30 L98.00 368.30 L98.00 369.80 L101.00 369.80 L101.00 368.50 L103.00 368.50 L103.00 369.80 L108.50 369.80 L108.50 366.00 L110.50 366.00 L110.50 360.00 L113.50 360.00 L113.50 359.30 L116.00 359.30 L116.00 364.00 L119.00 364.00 L119.00 350.00 L121.00 350.00 L121.00 335.30 L123.80 335.30 L123.80 333.30 L125.80 333.30 L125.80 325.90 L127.70 325.90 L127.70 319.90 L130.20 319.90 L130.20 330.80 L131.70 330.80 L131.70 325.90 L134.20 325.90 L134.20 333.30 L136.20 333.30 L136.20 330.00 L138.50 330.00 L138.50 325.00 L140.10 325.00 L140.10 321.90 L143.40 321.90 L143.40 327.20 L147.40 327.20 L147.40 337.40 L149.60 337.40 L149.60 346.20 L152.00 346.20 L152.00 342.00 L154.00 342.00 L154.00 340.00 L156.00 340.00 L156.00 346.00 L158.40 346.00 L158.40 350.50 L162.80 350.50 L162.80 346.00 L165.70 346.00 L165.70 354.90 L171.50 354.90 L171.50 357.80 L177.40 357.80 L177.40 362.20 L183.20 362.20 L183.20 363.50 L188.00 363.50 L188.00 366.00 L192.00 366.00 L192.00 368.00 L196.00 368.00 L196.00 369.80" fill="none" stroke="#4a6cc0" stroke-width="1.25" stroke-linejoin="miter"/>
<path d="M81.50 369.80 L81.50 369.80 L82.40 369.80 L82.40 362.20 L85.30 362.20 L85.30 369.80 L106.80 369.80 L106.80 364.00 L108.80 364.00 L108.80 356.00 L110.90 356.00 L110.90 346.70 L114.30 346.70 L114.30 338.80 L116.80 338.80 L116.80 323.40 L119.30 323.40 L119.30 284.00 L121.30 284.00 L121.30 290.90 L123.30 290.90 L123.30 307.30 L125.30 307.30 L125.30 300.30 L127.80 300.30 L127.80 315.20 L131.70 315.20 L131.70 299.30 L136.50 299.30 L136.50 311.00 L137.90 311.00 L137.90 325.70 L140.00 325.70 L140.00 338.80 L142.90 338.80 L142.90 346.20 L145.80 346.20 L145.80 360.80 L149.60 360.80 L149.60 369.00 L152.00 369.00 L152.00 362.20 L154.60 362.20 L154.60 369.80" fill="none" stroke="#111" stroke-width="1.25" stroke-linejoin="miter"/>
</g>
<rect x="76.3" y="238.5" width="152.89999999999998" height="136.5" fill="none" stroke="#222" stroke-width="1.1"/>
<line x1="84.46" y1="375.0" x2="84.46" y2="377.6" stroke="#222" stroke-width="0.9"/>
<text x="84.46" y="385.56" font-size="7.4" font-weight="normal" text-anchor="middle" fill="#333" stroke="#333" stroke-width="0.18">&#8722;4</text>
<line x1="106.28" y1="375.0" x2="106.28" y2="377.6" stroke="#222" stroke-width="0.9"/>
<text x="106.28" y="385.56" font-size="7.4" font-weight="normal" text-anchor="middle" fill="#333" stroke="#333" stroke-width="0.18">&#8722;2</text>
<line x1="128.10" y1="375.0" x2="128.10" y2="377.6" stroke="#222" stroke-width="0.9"/>
<text x="128.10" y="385.56" font-size="7.4" font-weight="normal" text-anchor="middle" fill="#333" stroke="#333" stroke-width="0.18">0</text>
<line x1="149.92" y1="375.0" x2="149.92" y2="377.6" stroke="#222" stroke-width="0.9"/>
<text x="149.92" y="385.56" font-size="7.4" font-weight="normal" text-anchor="middle" fill="#333" stroke="#333" stroke-width="0.18">2</text>
<line x1="171.74" y1="375.0" x2="171.74" y2="377.6" stroke="#222" stroke-width="0.9"/>
<text x="171.74" y="385.56" font-size="7.4" font-weight="normal" text-anchor="middle" fill="#333" stroke="#333" stroke-width="0.18">4</text>
<line x1="193.56" y1="375.0" x2="193.56" y2="377.6" stroke="#222" stroke-width="0.9"/>
<text x="193.56" y="385.56" font-size="7.4" font-weight="normal" text-anchor="middle" fill="#333" stroke="#333" stroke-width="0.18">6</text>
<line x1="215.38" y1="375.0" x2="215.38" y2="377.6" stroke="#222" stroke-width="0.9"/>
<text x="215.38" y="385.56" font-size="7.4" font-weight="normal" text-anchor="middle" fill="#333" stroke="#333" stroke-width="0.18">8</text>
<line x1="73.7" y1="369.80" x2="76.3" y2="369.80" stroke="#222" stroke-width="0.9"/>
<text x="71.60" y="372.46" font-size="7.4" font-weight="normal" text-anchor="end" fill="#333" stroke="#333" stroke-width="0.18">0.00</text>
<line x1="73.7" y1="327.60" x2="76.3" y2="327.60" stroke="#222" stroke-width="0.9"/>
<text x="71.60" y="330.26" font-size="7.4" font-weight="normal" text-anchor="end" fill="#333" stroke="#333" stroke-width="0.18">0.05</text>
<line x1="73.7" y1="285.40" x2="76.3" y2="285.40" stroke="#222" stroke-width="0.9"/>
<text x="71.60" y="288.06" font-size="7.4" font-weight="normal" text-anchor="end" fill="#333" stroke="#333" stroke-width="0.18">0.10</text>
<line x1="73.7" y1="243.20" x2="76.3" y2="243.20" stroke="#222" stroke-width="0.9"/>
<text x="71.60" y="245.86" font-size="7.4" font-weight="normal" text-anchor="end" fill="#333" stroke="#333" stroke-width="0.18">0.15</text>
<text x="52.30" y="306.75" font-size="8.8" font-weight="bold" text-anchor="middle" fill="#111" transform="rotate(-90 52.30 306.75)" stroke="#111" stroke-width="0.15">Density</text>
<text x="153.05" y="397.50" font-size="8.5" font-weight="bold" text-anchor="middle" fill="#111" stroke="#111" stroke-width="0.15">YWHAZ Expr (SD)</text>
<line x1="89.8" y1="246.60" x2="100.3" y2="246.60" stroke="#e03c44" stroke-width="1.2"/>
<text x="105.00" y="249.70" font-size="6.7" font-weight="normal" text-anchor="start" fill="#222" stroke="#222" stroke-width="0.18">TP53 Mutated</text>
<line x1="89.8" y1="255.50" x2="100.3" y2="255.50" stroke="#5a7ac8" stroke-width="1.2"/>
<text x="105.00" y="258.60" font-size="6.7" font-weight="normal" text-anchor="start" fill="#222" stroke="#222" stroke-width="0.18">TP53 Mutation free</text>
<line x1="89.8" y1="264.50" x2="100.3" y2="264.50" stroke="#111" stroke-width="1.2"/>
<text x="105.00" y="267.60" font-size="6.7" font-weight="normal" text-anchor="start" fill="#222" stroke="#222" stroke-width="0.18">Normal</text>
<path d="M163.20000000000002 244.5 L164.8 244.5 L164.8 259.5 L163.20000000000002 259.5" fill="none" stroke="#333" stroke-width="0.8"/>
<text x="171.50" y="253.70" font-size="7.2" font-weight="normal" text-anchor="start" fill="#222" stroke="#222" stroke-width="0.18"><tspan font-style="italic">P</tspan> &lt; 1E&#8722;9</text>
<g clip-path="url(#clip330)">
<path d="M334.50 371.80 L334.50 371.80 L335.00 371.80 L335.00 370.72 L336.60 370.72 L336.60 370.43 L338.20 370.43 L338.20 371.80 L339.80 371.80 L339.80 370.99 L341.40 370.99 L341.40 370.45 L343.00 370.45 L343.00 368.81 L344.60 368.81 L344.60 369.04 L346.20 369.04 L346.20 369.39 L347.80 369.39 L347.80 369.30 L349.40 369.30 L349.40 369.49 L351.00 369.49 L351.00 371.80 L352.60 371.80 L352.60 368.35 L354.20 368.35 L354.20 371.80 L355.80 371.80 L355.80 367.35 L357.40 367.35 L357.40 367.56 L359.00 367.56 L359.00 367.28 L360.60 367.28 L360.60 368.32 L362.20 368.32 L362.20 367.76 L363.80 367.76 L363.80 371.80 L365.40 371.80 L365.40 368.80 L367.00 368.80 L367.00 363.61 L368.60 363.61 L368.60 365.22 L370.20 365.22 L370.20 365.46 L371.80 365.46 L371.80 365.20 L373.40 365.20 L373.40 361.38 L375.00 361.38 L375.00 358.39 L376.60 358.39 L376.60 354.39 L378.20 354.39 L378.20 355.99 L379.80 355.99 L379.80 352.06 L381.40 352.06 L381.40 350.19 L383.00 350.19 L383.00 352.04 L384.60 352.04 L384.60 348.28 L386.20 348.28 L386.20 371.80 L387.80 371.80 L387.80 344.46 L389.40 344.46 L389.40 364.15 L391.00 364.15 L391.00 364.95 L392.60 364.95 L392.60 363.43 L394.20 363.43 L394.20 371.80 L395.80 371.80 L395.80 371.80 L397.40 371.80 L397.40 337.65 L399.00 337.65 L399.00 332.11 L400.60 332.11 L400.60 343.34 L402.20 343.34 L402.20 371.80 L403.80 371.80 L403.80 371.80 L405.40 371.80 L405.40 354.07 L407.00 354.07 L407.00 343.45 L408.60 343.45 L408.60 359.75 L410.20 359.75 L410.20 351.97 L411.80 351.97 L411.80 335.07 L413.40 335.07 L413.40 347.55 L415.00 347.55 L415.00 344.63 L416.60 344.63 L416.60 348.91 L418.20 348.91 L418.20 343.14 L419.80 343.14 L419.80 357.96 L421.40 357.96 L421.40 364.20 L423.00 364.20 L423.00 358.22 L424.60 358.22 L424.60 371.80 L426.20 371.80 L426.20 364.50 L427.80 364.50 L427.80 368.23 L429.40 368.23 L429.40 371.80 L431.00 371.80 L431.00 364.24 L432.60 364.24 L432.60 364.48 L434.20 364.48 L434.20 364.93 L435.80 364.93 L435.80 371.80 L437.40 371.80 L437.40 365.87 L439.00 365.87 L439.00 368.39 L440.60 368.39 L440.60 366.87 L442.20 366.87 L442.20 368.21 L443.80 368.21 L443.80 368.39 L445.40 368.39 L445.40 368.86 L447.00 368.86 L447.00 371.80 L448.60 371.80 L448.60 367.90 L450.20 367.90 L450.20 369.01 L451.80 369.01 L451.80 367.18 L453.40 367.18 L453.40 369.60 L455.00 369.60 L455.00 371.80 L456.60 371.80 L456.60 369.22 L458.20 369.22 L458.20 367.51 L459.80 367.51 L459.80 367.54 L461.40 367.54 L461.40 369.36 L463.00 369.36 L463.00 367.64 L464.60 367.64 L464.60 371.80 L466.20 371.80 L466.20 368.93 L467.80 368.93 L467.80 368.16 L469.40 368.16 L469.40 370.09 L471.00 370.09 L471.00 368.34 L472.60 368.34 L472.60 368.44 L474.20 368.44 L474.20 370.36 L475.80 370.36 L475.80 368.65 L478.50 368.65 L478.50 371.80" fill="none" stroke="#e03c44" stroke-width="1.2" stroke-linejoin="miter"/>
<path d="M366.00 371.80 L366.00 369.50 L369.00 369.50 L369.00 371.80 L371.00 371.80 L371.00 368.00 L373.00 368.00 L373.00 371.80 L376.00 371.80 L376.00 366.00 L378.00 366.00 L378.00 355.60 L381.00 355.60 L381.00 358.00 L384.00 358.00 L384.00 346.80 L386.50 346.80 L386.50 352.00 L388.50 352.00 L388.50 344.00 L390.50 344.00 L390.50 340.00 L392.90 340.00 L392.90 332.20 L394.50 332.20 L394.50 336.00 L396.00 336.00 L396.00 338.50 L398.70 338.50 L398.70 342.50 L400.50 342.50 L400.50 349.50 L402.00 349.50 L402.00 356.00 L404.50 356.00 L404.50 355.60 L407.50 355.60 L407.50 346.80 L410.00 346.80 L410.00 358.00 L412.00 358.00 L412.00 354.00 L414.80 354.00 L414.80 361.40 L418.00 361.40 L418.00 361.40 L421.00 361.40 L421.00 357.00 L424.00 357.00 L424.00 364.00 L428.00 364.00 L428.00 369.00 L431.00 369.00 L431.00 361.40 L436.70 361.40 L436.70 371.80" fill="none" stroke="#4a6cc0" stroke-width="1.2" stroke-linejoin="miter"/>
<path d="M360.00 371.80 L360.00 370.50 L362.00 370.50 L362.00 371.80 L376.50 371.80 L376.50 368.50 L378.20 368.50 L378.20 366.00 L380.50 366.00 L380.50 362.00 L382.50 362.00 L382.50 352.00 L384.90 352.00 L384.90 308.60 L387.50 308.60 L387.50 292.70 L389.80 292.70 L389.80 284.80 L391.80 284.80 L391.80 269.90 L394.20 269.90 L394.20 324.50 L396.80 324.50 L396.80 333.00 L398.50 333.00 L398.50 350.00 L400.00 350.00 L400.00 362.00 L401.60 362.00 L401.60 371.80 L403.50 371.80 L403.50 362.00 L405.50 362.00 L405.50 371.80 L408.00 371.80 L408.00 366.00 L410.00 366.00 L410.00 371.80 L412.00 371.80 L412.00 368.00 L414.00 368.00 L414.00 371.80" fill="none" stroke="#222" stroke-width="1.3" stroke-linejoin="miter"/>
</g>
<rect x="330.0" y="240.2" width="153.2" height="137.0" fill="none" stroke="#222" stroke-width="1.1"/>
<line x1="360.20" y1="377.2" x2="360.20" y2="379.8" stroke="#222" stroke-width="0.9"/>
<text x="360.20" y="388.08" font-size="8.2" font-weight="normal" text-anchor="middle" fill="#333" stroke="#333" stroke-width="0.18">&#8722;5</text>
<line x1="392.00" y1="377.2" x2="392.00" y2="379.8" stroke="#222" stroke-width="0.9"/>
<text x="392.00" y="388.08" font-size="8.2" font-weight="normal" text-anchor="middle" fill="#333" stroke="#333" stroke-width="0.18">0</text>
<line x1="423.80" y1="377.2" x2="423.80" y2="379.8" stroke="#222" stroke-width="0.9"/>
<text x="423.80" y="388.08" font-size="8.2" font-weight="normal" text-anchor="middle" fill="#333" stroke="#333" stroke-width="0.18">5</text>
<line x1="455.60" y1="377.2" x2="455.60" y2="379.8" stroke="#222" stroke-width="0.9"/>
<text x="455.60" y="388.08" font-size="8.2" font-weight="normal" text-anchor="middle" fill="#333" stroke="#333" stroke-width="0.18">10</text>
<line x1="327.4" y1="371.90" x2="330.0" y2="371.90" stroke="#222" stroke-width="0.9"/>
<text x="325.00" y="374.85" font-size="8.2" font-weight="normal" text-anchor="end" fill="#333" stroke="#333" stroke-width="0.18">0.00</text>
<line x1="327.4" y1="329.65" x2="330.0" y2="329.65" stroke="#222" stroke-width="0.9"/>
<text x="325.00" y="332.60" font-size="8.2" font-weight="normal" text-anchor="end" fill="#333" stroke="#333" stroke-width="0.18">0.05</text>
<line x1="327.4" y1="287.40" x2="330.0" y2="287.40" stroke="#222" stroke-width="0.9"/>
<text x="325.00" y="290.35" font-size="8.2" font-weight="normal" text-anchor="end" fill="#333" stroke="#333" stroke-width="0.18">0.10</text>
<line x1="327.4" y1="245.15" x2="330.0" y2="245.15" stroke="#222" stroke-width="0.9"/>
<text x="325.00" y="248.10" font-size="8.2" font-weight="normal" text-anchor="end" fill="#333" stroke="#333" stroke-width="0.18">0.15</text>
<text x="299.00" y="308.70" font-size="8.8" font-weight="bold" text-anchor="middle" fill="#111" transform="rotate(-90 299.00 308.70)" stroke="#111" stroke-width="0.15">Density</text>
<text x="406.90" y="400.30" font-size="8.4" font-weight="bold" text-anchor="middle" fill="#111" stroke="#111" stroke-width="0.15">PTK2 Expr (SD)</text>
<line x1="344.1" y1="247.00" x2="354.6" y2="247.00" stroke="#e03c44" stroke-width="1.2"/>
<text x="359.30" y="250.10" font-size="6.7" font-weight="normal" text-anchor="start" fill="#222" stroke="#222" stroke-width="0.18">TP53 Mutated</text>
<line x1="344.1" y1="257.20" x2="354.6" y2="257.20" stroke="#5a7ac8" stroke-width="1.2"/>
<text x="359.30" y="260.30" font-size="6.7" font-weight="normal" text-anchor="start" fill="#222" stroke="#222" stroke-width="0.18">TP53 Mutation free</text>
<line x1="344.1" y1="265.50" x2="354.6" y2="265.50" stroke="#111" stroke-width="1.2"/>
<text x="359.30" y="268.60" font-size="6.7" font-weight="normal" text-anchor="start" fill="#222" stroke="#222" stroke-width="0.18">Normal</text>
<path d="M420.2 246.2 L421.8 246.2 L421.8 261.2 L420.2 261.2" fill="none" stroke="#333" stroke-width="0.8"/>
<text x="425.80" y="255.40" font-size="7.2" font-weight="normal" text-anchor="start" fill="#222" stroke="#222" stroke-width="0.18"><tspan font-style="italic">P</tspan> = 0.017</text>
<rect x="384.9" y="308.6" width="2.2" height="16.399999999999977" fill="#333"/>
<rect x="387.5" y="292.7" width="2.0" height="16.30000000000001" fill="#333"/>
<rect x="391.8" y="270" width="1.8" height="16" fill="#333"/>
<rect x="393.0" y="324.5" width="1.4" height="12.5" fill="#333"/>
</svg>
</body></html>
